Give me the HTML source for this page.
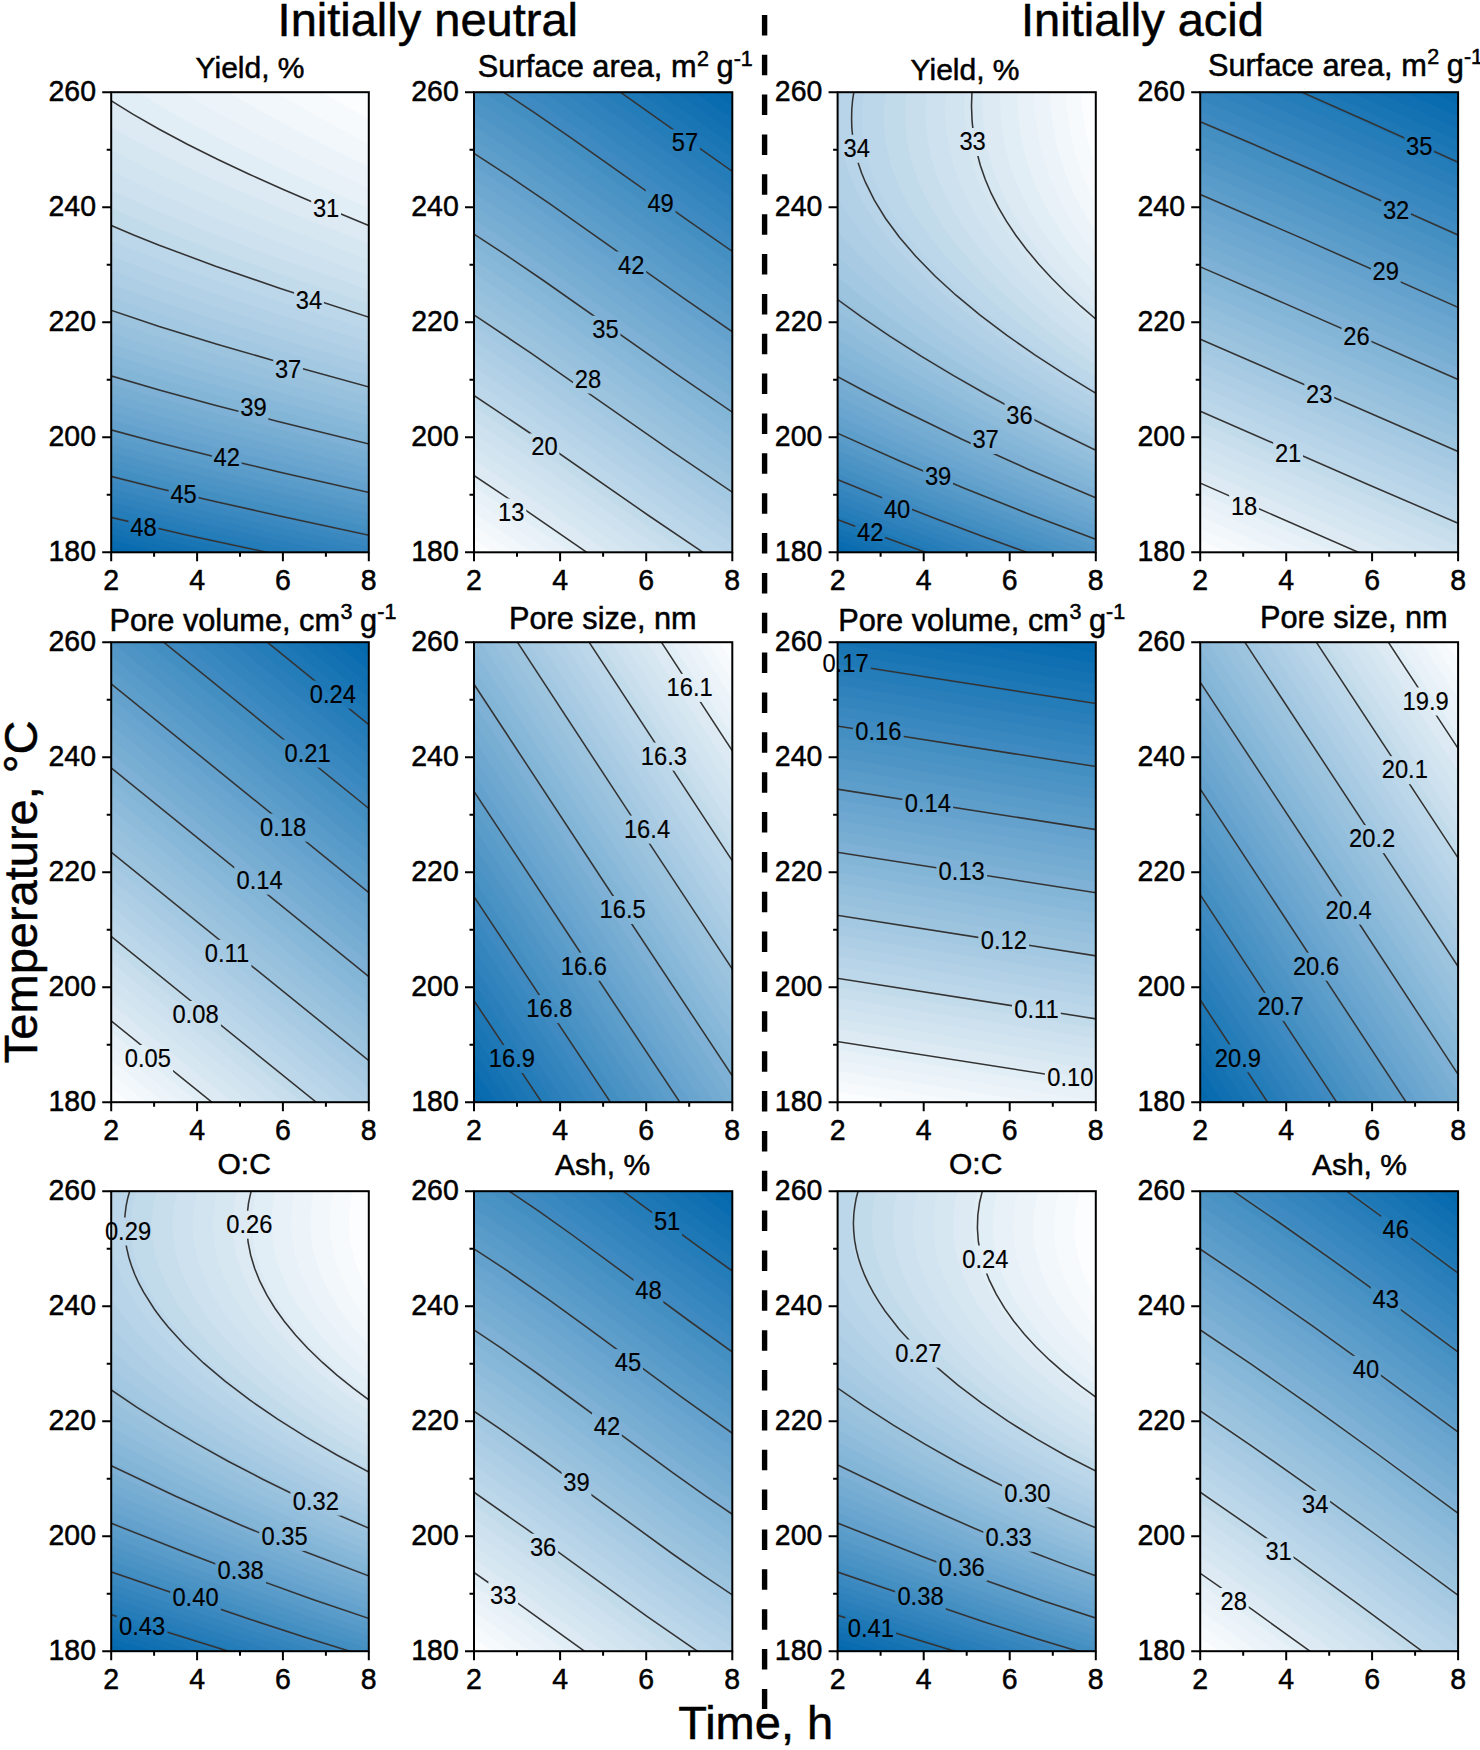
<!DOCTYPE html><html><head><meta charset="utf-8"><style>html,body{margin:0;padding:0;background:#fff}body{width:1480px;height:1750px;overflow:hidden}svg{display:block}text{font-family:"Liberation Sans", Arial, sans-serif;fill:#000;stroke:#000;stroke-width:0.5px}text.l{stroke-width:0.15px}</style></head><body>
<svg width="1480" height="1750" viewBox="0 0 1480 1750">
<rect width="1480" height="1750" fill="#fff"/>
<defs></defs>
<clipPath id="c0"><rect x="111.2" y="92.2" width="257.6" height="460.1"/></clipPath>
<mask id="m0" maskUnits="userSpaceOnUse" x="106.2" y="87.2" width="267.6" height="470.1"><rect x="0" y="0" width="1480" height="1750" fill="#fff"/><rect x="311.2" y="194.5" width="29.8" height="28" fill="#000"/><rect x="294.1" y="286.8" width="29.8" height="28" fill="#000"/><rect x="273.2" y="356" width="29.8" height="28" fill="#000"/><rect x="238.5" y="394" width="29.8" height="28" fill="#000"/><rect x="211.9" y="443.4" width="29.8" height="28" fill="#000"/><rect x="168.7" y="480.9" width="29.8" height="28" fill="#000"/><rect x="128.5" y="513.4" width="29.8" height="28" fill="#000"/></mask>
<g clip-path="url(#c0)"><rect x="111.2" y="92.2" width="257.6" height="460.1" fill="#fcfdfe"/><path fill="#f7fafc" d="M109.2 90.2L318.9 90.2 370.2 120.3 370.2 554.2 109.2 554.2Z"/><path fill="#f2f7fb" d="M109.2 90.2L271.8 90.2 317 116.2 370.2 145 370.2 554.2 109.2 554.2Z"/><path fill="#edf4f9" d="M109.2 90.2L224.8 90.2 255.8 108.2 288.7 126.2 327 146.2 370.2 167.8 370.2 554.2 109.2 554.2Z"/><path fill="#e7f1f7" d="M109.2 90.2L178.9 90.2 218.1 113.2 261 136.2 309.2 160.2 370.2 188.9 370.2 554.2 109.2 554.2Z"/><path fill="#e2eef6" d="M109.2 90.2L134.8 90.2 157.2 104.1 180.2 117.4 232.5 145.2 293 174.2 370.2 208.5 370.2 554.2 109.2 554.2Z"/><path fill="#ddeaf4" d="M109.2 100.7L134.5 116.2 160.2 130.8 187.4 145.2 217.5 160.2 283.1 190.2 370.2 226.9 370.2 554.2 109.2 554.2Z"/><path fill="#d7e7f2" d="M109.2 125.8L134.7 140.2 160.2 153.6 187.6 167.2 217.7 181.2 282.7 209.2 370.2 244.1 370.2 554.2 109.2 554.2Z"/><path fill="#d2e4f0" d="M109.2 148.6L134.2 161.8 159.2 174.2 216.8 200.2 283 227.2 370.2 260.4 370.2 554.2 109.2 554.2Z"/><path fill="#cde1ef" d="M109.2 169.7L160.3 194.2 216.5 218.2 280.8 243.2 370.2 275.7 370.2 554.2 109.2 554.2Z"/><path fill="#c8deed" d="M109.3 189.2L159.9 212.2 216.5 235.2 281.1 259.2 370.2 290.3 370.2 554.2 109.2 554.2Z"/><path fill="#c2dbeb" d="M109.2 207.3L159.9 229.2 216.5 251.2 281.1 274.2 370.2 304.2 370.2 554.2 109.2 554.2Z"/><path fill="#bdd7ea" d="M109.2 224.3L159.9 245.2 216.2 266.2 280.3 288.2 370.2 317.4 370.2 554.2 109.2 554.2Z"/><path fill="#b8d4e8" d="M109.2 240.3L159.5 260.2 215.2 280.2 278.4 301.2 370.2 330.1 370.2 554.2 109.2 554.2Z"/><path fill="#b3d1e6" d="M109.2 255.4L160.2 274.8 216.2 294.2 278.4 314.2 370.2 342.3 370.2 554.2 109.2 554.2Z"/><path fill="#adcee5" d="M109.2 269.7L159.5 288.2 216.1 307.2 280.2 327.2 370.2 354 370.2 554.2 109.2 554.2Z"/><path fill="#a8cbe3" d="M109.2 283.3L159.4 301.2 215.2 319.4 280.4 339.2 370.2 365.2 370.2 554.2 109.2 554.2Z"/><path fill="#a3c8e1" d="M109.2 296.3L160.2 313.9 215.2 331.4 278.8 350.2 370.2 376.1 370.2 554.2 109.2 554.2Z"/><path fill="#9dc4df" d="M109.2 308.7L161.2 326.2 216.3 343.2 278.6 361.2 370.2 386.6 370.2 554.2 109.2 554.2Z"/><path fill="#98c1de" d="M109.2 320.6L159.8 337.2 216.1 354.2 279.8 372.2 370.2 396.7 370.2 554.2 109.2 554.2Z"/><path fill="#93bedc" d="M109.2 332.1L159.6 348.2 216.2 364.9 278.6 382.2 370.2 406.5 370.2 554.2 109.2 554.2Z"/><path fill="#8ebbda" d="M109.5 343.2L160.7 359.2 216.1 375.2 278.7 392.2 370.2 416.1 370.2 554.2 109.2 554.2Z"/><path fill="#88b8d9" d="M109.2 353.7L159.7 369.2 216.1 385.2 279.9 402.2 370.2 425.4 370.2 554.2 109.2 554.2Z"/><path fill="#83b5d7" d="M109.2 364L159.8 379.2 217.2 395.2 370.2 434.4 370.2 554.2 109.2 554.2Z"/><path fill="#7eb1d5" d="M109.2 374L161 389.2 215.9 404.2 370.2 443.1 370.2 554.2 109.2 554.2Z"/><path fill="#79aed3" d="M109.2 383.6L159.7 398.2 215.4 413.2 370.2 451.7 370.2 554.2 109.2 554.2Z"/><path fill="#73abd2" d="M109.2 392.9L159.3 407.2 215.9 422.2 370.2 460 370.2 554.2 109.2 554.2Z"/><path fill="#6ea8d0" d="M109.2 402L159.8 416.2 217.2 431.2 370.2 468.1 370.2 554.2 109.2 554.2Z"/><path fill="#69a5ce" d="M109.2 410.9L161.2 425.2 215.6 439.2 370.2 476.1 370.2 554.2 109.2 554.2Z"/><path fill="#64a2cd" d="M109.2 419.5L159.7 433.2 215.2 447.3 370.2 483.8 370.2 554.2 109.2 554.2Z"/><path fill="#5e9ecb" d="M109.2 427.8L159.2 441.3 215.2 455.3 370.2 491.4 370.2 554.2 109.2 554.2Z"/><path fill="#599bc9" d="M109.2 436L159.2 449.3 215.4 463.2 370.2 498.8 370.2 554.2 109.2 554.2Z"/><path fill="#5498c7" d="M109.2 444L159.7 457.2 216.9 471.2 370.2 506.1 370.2 554.2 109.2 554.2Z"/><path fill="#4e95c6" d="M109.2 451.8L161.2 465.2 215.2 478.3 370.2 513.2 370.2 554.2 109.2 554.2Z"/><path fill="#4992c4" d="M109.2 459.4L161.2 472.7 217.7 486.2 370.2 520.2 370.2 554.2 109.2 554.2Z"/><path fill="#448fc2" d="M109.2 466.8L162.1 480.2 216.9 493.2 370.2 527.1 370.2 554.2 109.2 554.2Z"/><path fill="#3f8bc1" d="M109.4 474.2L161.2 487.1 216.8 500.2 370.2 533.8 370.2 554.2 109.2 554.2Z"/><path fill="#3988bf" d="M109.2 481.3L161.4 494.2 217.3 507.2 370.2 540.4 370.2 554.2 109.2 554.2Z"/><path fill="#3485bd" d="M109.2 488.3L161.9 501.2 218.2 514.2 370.2 546.9 370.2 554.2 109.2 554.2Z"/><path fill="#2f82bc" d="M109.4 495.2L197.6 516.2 265.7 531.2 370.2 553.3 370.2 554.2 109.2 554.2Z"/><path fill="#2a7fba" d="M109.2 501.9L208.6 525.2 344.5 554.2 109.2 554.2Z"/><path fill="#247cb8" d="M109.2 508.5L200.2 529.8 314.5 554.2 109.2 554.2Z"/><path fill="#1f78b6" d="M109.2 515L188.2 533.4 284.9 554.2 109.2 554.2Z"/><path fill="#1a75b5" d="M109.2 521.4L177.1 537.2 255.7 554.2 109.2 554.2Z"/><path fill="#1472b3" d="M109.2 527.6L165.2 540.7 227 554.2 109.2 554.2Z"/><path fill="#0f6fb1" d="M109.2 533.8L153.8 544.2 199 554.2 109.2 554.2Z"/><path fill="#0a6cb0" d="M109.2 539.9L140.6 547.2 171.8 554.2 109.2 554.2Z"/><path fill="#0569ae" d="M109.2 545.9L127.8 550.2 145.4 554.2 109.2 554.2Z"/><path fill="none" stroke="#333333" stroke-width="1.55" mask="url(#m0)" d="M109.2 99.6L133.2 114.4 159.2 129.2 187.3 144.2 217.4 159.2 249.2 174.2 282.7 189.2 322.3 206.2 370.2 226.1M109.2 224.6L134.2 235.2 159.2 245.2 215.6 266.2 279.6 288.2 370.2 317.6M109.2 309.6L159.2 326.4 216.2 344 279.3 362.2 370.2 387.3M109.2 375.3L160.1 390.2 215 405.2 277.1 421.2 370.2 444.3M109.2 429.4L160.7 443.2 216.7 457.2 280 472.2 370.2 492.8M109.2 475.9L160.2 488.7 217.2 502 280.8 516.2 370.2 535.5M109.2 517L185.2 534.7 275.8 554.2"/></g>
<text class="l" transform="translate(326.1 216.5) scale(0.95 1)" text-anchor="middle" font-size="25">31</text>
<text class="l" transform="translate(309 308.8) scale(0.95 1)" text-anchor="middle" font-size="25">34</text>
<text class="l" transform="translate(288.1 378.1) scale(0.95 1)" text-anchor="middle" font-size="25">37</text>
<text class="l" transform="translate(253.4 416.1) scale(0.95 1)" text-anchor="middle" font-size="25">39</text>
<text class="l" transform="translate(226.8 465.5) scale(0.95 1)" text-anchor="middle" font-size="25">42</text>
<text class="l" transform="translate(183.6 502.9) scale(0.95 1)" text-anchor="middle" font-size="25">45</text>
<text class="l" transform="translate(143.4 535.5) scale(0.95 1)" text-anchor="middle" font-size="25">48</text>
<rect x="111.2" y="92.2" width="257.6" height="460.1" fill="none" stroke="#000" stroke-width="2"/>
<path stroke="#000" stroke-width="2" fill="none" d="M111.2 552.3H102.2M111.2 494.8H106.7M111.2 437.3H102.2M111.2 379.8H106.7M111.2 322.2H102.2M111.2 264.7H106.7M111.2 207.2H102.2M111.2 149.7H106.7M111.2 92.2H102.2M111.2 552.3V561.3M154.1 552.3V556.8M197.1 552.3V561.3M240 552.3V556.8M282.9 552.3V561.3M325.9 552.3V556.8M368.8 552.3V561.3"/>
<text transform="translate(96 561.1) scale(0.95 1)" text-anchor="end" font-size="30">180</text>
<text transform="translate(96 446.1) scale(0.95 1)" text-anchor="end" font-size="30">200</text>
<text transform="translate(96 331.1) scale(0.95 1)" text-anchor="end" font-size="30">220</text>
<text transform="translate(96 216) scale(0.95 1)" text-anchor="end" font-size="30">240</text>
<text transform="translate(96 101) scale(0.95 1)" text-anchor="end" font-size="30">260</text>
<text transform="translate(111.2 590.3) scale(0.95 1)" text-anchor="middle" font-size="30">2</text>
<text transform="translate(197.1 590.3) scale(0.95 1)" text-anchor="middle" font-size="30">4</text>
<text transform="translate(282.9 590.3) scale(0.95 1)" text-anchor="middle" font-size="30">6</text>
<text transform="translate(368.8 590.3) scale(0.95 1)" text-anchor="middle" font-size="30">8</text>
<clipPath id="c1"><rect x="474" y="92.2" width="258.3" height="460.1"/></clipPath>
<mask id="m1" maskUnits="userSpaceOnUse" x="469" y="87.2" width="268.3" height="470.1"><rect x="0" y="0" width="1480" height="1750" fill="#fff"/><rect x="496.4" y="498.5" width="29.8" height="28" fill="#000"/><rect x="529.5" y="433.4" width="29.8" height="28" fill="#000"/><rect x="573" y="365.5" width="29.8" height="28" fill="#000"/><rect x="590.6" y="315.8" width="29.8" height="28" fill="#000"/><rect x="616.4" y="251.5" width="29.8" height="28" fill="#000"/><rect x="645.7" y="189.6" width="29.8" height="28" fill="#000"/><rect x="670.1" y="129.4" width="29.8" height="28" fill="#000"/></mask>
<g clip-path="url(#c1)"><rect x="474" y="92.2" width="258.3" height="460.1" fill="#fcfdfe"/><path fill="#f7fafc" d="M472 90.2L734 90.2 734 554.2 496.7 554.2 472 537.8Z"/><path fill="#f2f7fb" d="M472 90.2L734 90.2 734 554.2 516.1 554.2 472 524.7Z"/><path fill="#edf4f9" d="M472 90.2L734 90.2 734 554.2 535.3 554.2 472 511.6Z"/><path fill="#e7f1f7" d="M472 90.2L734 90.2 734 554.2 554.4 554.2 472 498.5Z"/><path fill="#e2eef6" d="M472 90.2L734 90.2 734 554.2 573.4 554.2 516 514.7 472 485.3Z"/><path fill="#ddeaf4" d="M472 90.2L734 90.2 734 554.2 592.5 554.2 521 504.9 472 472.1Z"/><path fill="#d7e7f2" d="M472 90.2L734 90.2 734 554.2 611.5 554.2 526 495.1 472 458.9Z"/><path fill="#d2e4f0" d="M472 90.2L734 90.2 734 554.2 630.6 554.2 529 483.9 472 445.6Z"/><path fill="#cde1ef" d="M472 90.2L734 90.2 734 554.2 649.7 554.2 530 471.3 472 432.4Z"/><path fill="#c8deed" d="M472 90.2L734 90.2 734 554.2 669.1 554.2 530 458 472 419.1Z"/><path fill="#c2dbeb" d="M472 90.2L734 90.2 734 554.2 688.6 554.2 641.6 522.2 529 444 472 405.8Z"/><path fill="#bdd7ea" d="M472 90.2L734 90.2 734 554.2 708.3 554.2 652 516.1 527 429.3 472 392.4Z"/><path fill="#b8d4e8" d="M472 90.2L734 90.2 734 554.2 728.4 554.2 699 534.8 648.2 500.2 530 418 472 379.1Z"/><path fill="#b3d1e6" d="M472 90.2L734 90.2 734 544.7 674.7 505.2 535 408 472 365.7Z"/><path fill="#adcee5" d="M472 90.2L734 90.2 734 531.5 676.6 493.2 536 395.3 472 352.4Z"/><path fill="#a8cbe3" d="M472 90.2L734 90.2 734 518.3 668.3 474.2 527 375.8 472 339Z"/><path fill="#a3c8e1" d="M472 90.2L734 90.2 734 505.1 670 462.1 529 363.7 472 325.6Z"/><path fill="#9dc4df" d="M472 90.2L734 90.2 734 491.9 670.7 449.2 531 351.6 472 312.2Z"/><path fill="#98c1de" d="M472 90.2L734 90.2 734 478.7 672 436.7 533 339.6 472 298.8Z"/><path fill="#93bedc" d="M472 90.2L734 90.2 734 465.4 673 424.1 535 327.5 472 285.4Z"/><path fill="#8ebbda" d="M472 90.2L734 90.2 734 452.1 674 411.4 537 315.4 472 272Z"/><path fill="#88b8d9" d="M472 90.2L734 90.2 734 438.9 675 398.7 538 302.6 472 258.5Z"/><path fill="#83b5d7" d="M472 90.2L734 90.2 734 425.6 676 386 540 290.5 472 245.1Z"/><path fill="#7eb1d5" d="M472 90.2L734 90.2 734 412.2 677 373.3 542 278.5 472 231.7Z"/><path fill="#79aed3" d="M472 90.2L734 90.2 734 398.9 679 361.3 543 265.7 506 240.6 472 218.3Z"/><path fill="#73abd2" d="M472 90.2L734 90.2 734 385.6 680 348.5 545 253.6 507 227.8 472 204.9Z"/><path fill="#6ea8d0" d="M472 90.2L734 90.2 734 372.3 681 335.8 546 240.8 507 214.4 472 191.5Z"/><path fill="#69a5ce" d="M472 90.2L734 90.2 734 358.9 682.1 323.2 548 228.7 508 201.6 472 178.1Z"/><path fill="#64a2cd" d="M472 90.2L734 90.2 734 345.6 684 311.1 549 216 508 188.2 472 164.8Z"/><path fill="#5e9ecb" d="M472 90.2L734 90.2 734 332.2 685 298.4 551 203.9 509 175.4 472 151.4Z"/><path fill="#599bc9" d="M472 90.2L734 90.2 734 318.9 686.8 286.2 552 191.2 510 162.7 472 138.1Z"/><path fill="#5498c7" d="M472 90.2L734 90.2 734 305.5 688 273.7 553 178.4 510 149.3 472 124.7Z"/><path fill="#4e95c6" d="M472 90.2L734 90.2 734 292.2 554 165.7 511 136.6 472 111.4Z"/><path fill="#4992c4" d="M472 90.2L734 90.2 734 278.8 556 153.7 512 123.9 472 98.1Z"/><path fill="#448fc2" d="M480.5 90.2L734 90.2 734 265.5 564 145.9 520 115.9Z"/><path fill="#3f8bc1" d="M501.2 90.2L734 90.2 734 252.2 577 141.5 537 114Z"/><path fill="#3988bf" d="M521.4 90.2L734 90.2 734 238.9 581.3 131.2Z"/><path fill="#3485bd" d="M541.2 90.2L734 90.2 734 225.6 591 124.6Z"/><path fill="#2f82bc" d="M560.6 90.2L734 90.2 734 212.3Z"/><path fill="#2a7fba" d="M580 90.2L734 90.2 734 199 693 170.3Z"/><path fill="#247cb8" d="M599 90.2L734 90.2 734 185.8 690 154.9Z"/><path fill="#1f78b6" d="M617.6 90.2L734 90.2 734 172.5Z"/><path fill="#1a75b5" d="M636.3 90.2L734 90.2 734 159.3Z"/><path fill="#1472b3" d="M655 90.2L734 90.2 734 146.1 695 118.7Z"/><path fill="#0f6fb1" d="M673.4 90.2L734 90.2 734 133Z"/><path fill="#0a6cb0" d="M692 90.2L734 90.2 734 119.8 710 103Z"/><path fill="#0569ae" d="M710.5 90.2L734 90.2 734 106.7Z"/><path fill="none" stroke="#333333" stroke-width="1.55" mask="url(#m1)" d="M589.5 554.2L521 507 472 474.1M705.8 554.2L650 516.5 527 431 472 394.2M734 493.3L670.1 450.2 531 353.1 472 313.6M734 413.3L677 374.4 542 279.5 505 254.4 472 232.8M734 333L685 299.1 550.3 204.2 509 176.2 472 152.1M734 252.6L691 222.7 571 137.8 534 112.4 500.6 90.2M734 172.6L617.5 90.2"/></g>
<text class="l" transform="translate(511.3 520.6) scale(0.95 1)" text-anchor="middle" font-size="25">13</text>
<text class="l" transform="translate(544.4 455.4) scale(0.95 1)" text-anchor="middle" font-size="25">20</text>
<text class="l" transform="translate(587.9 387.6) scale(0.95 1)" text-anchor="middle" font-size="25">28</text>
<text class="l" transform="translate(605.5 337.9) scale(0.95 1)" text-anchor="middle" font-size="25">35</text>
<text class="l" transform="translate(631.3 273.6) scale(0.95 1)" text-anchor="middle" font-size="25">42</text>
<text class="l" transform="translate(660.6 211.7) scale(0.95 1)" text-anchor="middle" font-size="25">49</text>
<text class="l" transform="translate(685 151.4) scale(0.95 1)" text-anchor="middle" font-size="25">57</text>
<rect x="474" y="92.2" width="258.3" height="460.1" fill="none" stroke="#000" stroke-width="2"/>
<path stroke="#000" stroke-width="2" fill="none" d="M474 552.3H465M474 494.8H469.5M474 437.3H465M474 379.8H469.5M474 322.2H465M474 264.7H469.5M474 207.2H465M474 149.7H469.5M474 92.2H465M474 552.3V561.3M517 552.3V556.8M560.1 552.3V561.3M603.1 552.3V556.8M646.2 552.3V561.3M689.2 552.3V556.8M732.3 552.3V561.3"/>
<text transform="translate(458.8 561.1) scale(0.95 1)" text-anchor="end" font-size="30">180</text>
<text transform="translate(458.8 446.1) scale(0.95 1)" text-anchor="end" font-size="30">200</text>
<text transform="translate(458.8 331.1) scale(0.95 1)" text-anchor="end" font-size="30">220</text>
<text transform="translate(458.8 216) scale(0.95 1)" text-anchor="end" font-size="30">240</text>
<text transform="translate(458.8 101) scale(0.95 1)" text-anchor="end" font-size="30">260</text>
<text transform="translate(474 590.3) scale(0.95 1)" text-anchor="middle" font-size="30">2</text>
<text transform="translate(560.1 590.3) scale(0.95 1)" text-anchor="middle" font-size="30">4</text>
<text transform="translate(646.2 590.3) scale(0.95 1)" text-anchor="middle" font-size="30">6</text>
<text transform="translate(732.3 590.3) scale(0.95 1)" text-anchor="middle" font-size="30">8</text>
<clipPath id="c2"><rect x="837.6" y="92.2" width="258.2" height="460.1"/></clipPath>
<mask id="m2" maskUnits="userSpaceOnUse" x="832.6" y="87.2" width="268.2" height="470.1"><rect x="0" y="0" width="1480" height="1750" fill="#fff"/><rect x="957.7" y="128" width="29.8" height="28" fill="#000"/><rect x="841.8" y="134.8" width="29.8" height="28" fill="#000"/><rect x="1004.6" y="401.6" width="29.8" height="28" fill="#000"/><rect x="970.7" y="426" width="29.8" height="28" fill="#000"/><rect x="923.2" y="463.2" width="29.8" height="28" fill="#000"/><rect x="882.2" y="495.8" width="29.8" height="28" fill="#000"/><rect x="855.3" y="518.9" width="29.8" height="28" fill="#000"/></mask>
<g clip-path="url(#c2)"><rect x="837.6" y="92.2" width="258.2" height="460.1" fill="#fcfdfe"/><path fill="#f7fafc" d="M835.6 90.2L1080.7 90.2 1082.5 111.2 1086 132.2 1090.9 152.2 1097.6 172.1 1097.6 554.2 835.6 554.2Z"/><path fill="#f2f7fb" d="M835.6 90.2L1065.5 90.2 1066.5 106.2 1068.3 121.2 1071 136.2 1074.4 150.2 1079 165.2 1084.2 179.2 1090.4 193.2 1097.6 207.3 1097.6 554.2 835.6 554.2Z"/><path fill="#edf4f9" d="M835.6 90.2L1049.9 90.2 1050.9 109.2 1053.3 128.2 1056.9 146.2 1062.1 164.2 1068.8 182.2 1076.6 199.2 1086.5 217.2 1097.6 234.5 1097.6 554.2 835.6 554.2Z"/><path fill="#e7f1f7" d="M835.6 90.2L1033.9 90.2 1034.8 112.2 1037.7 134.2 1042.4 155.2 1049.4 176.2 1058.5 197.2 1069.4 217.2 1082.4 237.2 1097.6 257.2 1097.6 554.2 835.6 554.2Z"/><path fill="#e2eef6" d="M835.6 90.2L1017.4 90.2 1018.2 115.2 1021.4 139.2 1027.4 163.2 1035.9 186.2 1047.2 209.2 1061.4 232.2 1078.5 255.2 1097.6 277.2 1097.6 554.2 835.6 554.2Z"/><path fill="#ddeaf4" d="M835.6 90.2L1000.5 90.2 1000.3 104.2 1000.9 117.2 1002.5 131.2 1004.7 144.2 1007.8 157.2 1011.8 170.2 1016.7 183.2 1022 195.2 1028.1 207.2 1035.6 220.2 1044.1 233.2 1052.8 245.2 1073.5 270.2 1097.6 295.1 1097.6 554.2 835.6 554.2Z"/><path fill="#d7e7f2" d="M835.6 90.2L982.9 90.2 982.6 105.2 983.1 119.2 984.6 133.2 987.1 147.2 990.6 161.2 995.1 175.2 1000.8 189.2 1007 202.2 1014.8 216.2 1023.7 230.2 1033 243.2 1044 257.2 1055.4 270.2 1068.6 284.2 1083 298.2 1097.6 311.4 1097.6 554.2 835.6 554.2Z"/><path fill="#d2e4f0" d="M835.6 90.2L964.9 90.2 964.2 106.2 964.7 121.2 966.3 136.2 969.1 151.2 973.1 166.2 978 180.2 984.1 194.2 991.8 209.2 1000.2 223.2 1010.5 238.2 1021.3 252.2 1034.1 267.2 1048.3 282.2 1063.7 297.2 1080.5 312.2 1097.6 326.4 1097.6 554.2 835.6 554.2Z"/><path fill="#cde1ef" d="M835.6 90.2L946.2 90.2 945.2 107.2 945.6 123.2 947.4 139.2 950.4 154.2 954.9 170.2 960.6 185.2 968.1 201.2 976.5 216.2 986.3 231.2 998.2 247.2 1010.7 262.2 1025.6 278.2 1040.9 293.2 1058.6 309.2 1077.8 325.2 1097.6 340.5 1097.6 554.2 835.6 554.2Z"/><path fill="#c8deed" d="M835.6 90.2L926.8 90.2 925.6 107.2 925.8 124.2 927.7 141.2 931 157.2 935.9 173.2 942.3 189.2 950.2 205.2 959.8 221.2 970.9 237.2 984.4 254.2 998.7 270.2 1015.5 287.2 1032.9 303.2 1053.1 320.2 1074.9 337.2 1097.6 353.7 1097.6 554.2 835.6 554.2Z"/><path fill="#c2dbeb" d="M835.6 90.2L906.7 90.2 905.2 108.2 905.3 125.2 907.2 142.2 910.8 159.2 916.3 176.2 923.5 193.2 932.6 210.2 943.5 227.2 956.2 244.2 970.6 261.2 986.8 278.2 1005.9 296.2 1025.6 313.2 1048.2 331.2 1071.3 348.2 1097.6 366.2 1097.6 554.2 835.6 554.2Z"/><path fill="#bdd7ea" d="M835.6 90.2L885.9 90.2 884 108.2 884.1 126.2 886.1 144.2 890 161.2 896.1 179.2 903.8 196.2 913.4 213.2 925.6 231.2 939.8 249.2 956 267.2 974.2 285.2 995.4 304.2 1017.5 322.2 1042.8 341.2 1068.6 359.2 1097.6 378.1 1097.6 554.2 835.6 554.2Z"/><path fill="#b8d4e8" d="M835.6 90.2L864.2 90.2 861.9 110.2 862.2 130.2 865.2 150.2 870.8 170.2 879.1 190.2 890.1 210.2 903.7 230.2 919.8 250.2 935.5 267.2 952.9 284.2 972.1 301.2 994.1 319.2 1016.7 336.2 1042.3 354.2 1069.7 372.2 1097.6 389.4 1097.6 554.2 835.6 554.2Z"/><path fill="#b3d1e6" d="M835.6 90.2L841.5 90.2 839.1 110.2 839.3 130.2 842.2 150.2 848 170.2 855.6 188.2 865.4 206.2 877.5 224.2 891.6 242.2 908.7 261.2 929.1 281.2 950.6 300.2 975.6 320.2 1002.8 340.2 1032.2 360.2 1063.8 380.2 1097.6 400.2 1097.6 554.2 835.6 554.2Z"/><path fill="#adcee5" d="M835.6 194.2L843.9 208.2 852.8 221.2 862.9 234.2 874 247.2 886.2 260.2 899.4 273.2 930.1 300.2 964.9 327.2 1005.2 355.2 1049.8 383.2 1097.6 410.6 1097.6 554.2 835.6 554.2Z"/><path fill="#a8cbe3" d="M835.6 228.6L856.4 252.2 880 275.2 907.9 299.2 939.1 323.2 973.4 347.2 1012.5 372.2 1053.1 396.2 1097.6 420.6 1097.6 554.2 835.6 554.2Z"/><path fill="#a3c8e1" d="M835.8 254.2L858.1 275.2 884.2 297.2 913 319.2 944.4 341.2 980 364.2 1016.6 386.2 1055.8 408.2 1097.6 430.2 1097.6 554.2 835.6 554.2Z"/><path fill="#9dc4df" d="M835.8 275.2L860.1 295.2 887.9 316.2 916.5 336.2 948.8 357.2 983.4 378.2 1018.5 398.2 1057.5 419.2 1097.6 439.5 1097.6 554.2 835.6 554.2Z"/><path fill="#98c1de" d="M835.6 293.2L862.4 313.2 889.8 332.2 919 351.2 951.7 371.2 986.5 391.2 1021.4 410.2 1058.2 429.2 1097.6 448.5 1097.6 554.2 835.6 554.2Z"/><path fill="#93bedc" d="M835.6 309.5L862.7 328.2 892.1 347.2 923.2 366.2 954.3 384.2 988.9 403.2 1023.4 421.2 1059.5 439.2 1097.6 457.3 1097.6 554.2 835.6 554.2Z"/><path fill="#8ebbda" d="M835.6 324.4L863.3 342.2 892.8 360.2 923.8 378.2 956.4 396.2 990.5 414.2 1024.2 431.2 1097.6 465.8 1097.6 554.2 835.6 554.2Z"/><path fill="#88b8d9" d="M835.8 338.2L865.4 356.2 894.8 373.2 957.5 407.2 1025.9 441.2 1097.6 474.1 1097.6 554.2 835.6 554.2Z"/><path fill="#83b5d7" d="M835.6 350.9L896.3 385.2 959.6 418.2 1026.1 450.2 1097.6 482.1 1097.6 554.2 835.6 554.2Z"/><path fill="#7eb1d5" d="M835.6 362.9L897 396.2 960.6 428.2 1026.9 459.2 1097.6 489.9 1097.6 554.2 835.6 554.2Z"/><path fill="#79aed3" d="M835.6 374.3L898.6 407.2 962.3 438.2 1028.3 468.2 1097.6 497.6 1097.6 554.2 835.6 554.2Z"/><path fill="#73abd2" d="M835.9 385.2L897.2 416.2 962.6 447.2 1028 476.2 1097.6 505.1 1097.6 554.2 835.6 554.2Z"/><path fill="#6ea8d0" d="M835.6 395.4L898.5 426.2 963.6 456.2 1030.6 485.2 1097.6 512.4 1097.6 554.2 835.6 554.2Z"/><path fill="#69a5ce" d="M835.6 405.2L900.6 436.2 965.2 465.2 1031.4 493.2 1097.6 519.5 1097.6 554.2 835.6 554.2Z"/><path fill="#64a2cd" d="M835.6 414.7L901.2 445.2 965 473.2 1030.2 500.2 1097.6 526.5 1097.6 554.2 835.6 554.2Z"/><path fill="#5e9ecb" d="M835.6 423.8L900.3 453.2 965.4 481.2 1031.9 508.2 1097.6 533.4 1097.6 554.2 835.6 554.2Z"/><path fill="#599bc9" d="M835.6 432.6L902.2 462.2 966.3 489.2 1031.5 515.2 1097.6 540.1 1097.6 554.2 835.6 554.2Z"/><path fill="#5498c7" d="M835.7 441.2L900 469.2 965.2 496.2 1031.5 522.2 1097.6 546.7 1097.6 554.2 835.6 554.2Z"/><path fill="#4e95c6" d="M835.6 449.4L895.8 475.2 954.5 499.2 1026.6 527.2 1097.6 553.2 1097.6 554.2 835.6 554.2Z"/><path fill="#4992c4" d="M835.6 457.4L896.9 483.2 959.1 508.2 1019.2 531.2 1082.5 554.2 835.6 554.2Z"/><path fill="#448fc2" d="M835.6 465.2L893.5 489.2 951.4 512.2 1006.7 533.2 1064.5 554.2 835.6 554.2Z"/><path fill="#3f8bc1" d="M835.6 472.8L888 494.2 941.3 515.2 994.2 535.2 1046.6 554.2 835.6 554.2Z"/><path fill="#3988bf" d="M835.7 480.2L931.4 518.2 1028.9 554.2 835.6 554.2Z"/><path fill="#3485bd" d="M835.6 487.4L924.3 522.2 1011.2 554.2 835.6 554.2Z"/><path fill="#2f82bc" d="M835.6 494.4L914.8 525.2 993.7 554.2 835.6 554.2Z"/><path fill="#2a7fba" d="M835.6 501.3L905.4 528.2 976.3 554.2 835.6 554.2Z"/><path fill="#247cb8" d="M835.6 508L899 532.2 959.1 554.2 835.6 554.2Z"/><path fill="#1f78b6" d="M835.6 514.6L890 535.2 942 554.2 835.6 554.2Z"/><path fill="#1a75b5" d="M835.6 521L881.2 538.2 925.1 554.2 835.6 554.2Z"/><path fill="#1472b3" d="M835.6 527.3L872.7 541.2 908.3 554.2 835.6 554.2Z"/><path fill="#0f6fb1" d="M835.6 533.5L864.3 544.2 891.7 554.2 835.6 554.2Z"/><path fill="#0a6cb0" d="M835.6 539.6L856.1 547.2 875.3 554.2 835.6 554.2Z"/><path fill="#0569ae" d="M835.6 545.6L848.1 550.2 859.1 554.2 835.6 554.2Z"/><path fill="none" stroke="#333333" stroke-width="1.55" mask="url(#m2)" d="M972 90.2L971.5 106.2 972.1 121.2 973.7 136.2 976.4 150.2 980.3 165.2 985.2 179.2 991.1 193.2 998.2 207.2 1006.4 221.2 1015.8 235.2 1026.3 249.2 1038.8 264.2 1051.7 278.2 1065.7 292.2 1080.8 306.2 1097.6 320.6M854.1 90.2L852.6 100.2 851.8 109.2 851.6 118.2 851.8 127.2 852.7 137.2 854.2 146.2 856.1 155.2 858.6 164.2 861.7 173.2 865.4 182.2 874.3 200.2 885.4 218.2 899.4 237.2 915.7 256.2 935.2 276.2 956 295.2 980.1 315.2 1006.6 335.2 1035.2 355.2 1066.1 375.2 1097.6 394.3M835.6 298.1L861.8 317.2 889.7 336.2 921.1 356.2 952.7 375.2 986.2 394.2 1021.5 413.2 1058.7 432.2 1097.6 451.1M835.6 375.7L866.7 392.2 898 408.2 961.9 439.2 1028.1 469.2 1097.6 498.6M835.6 432.4L900.3 461.2 964.3 488.2 1029.4 514.2 1097.6 539.9M835.6 478.8L885.9 499.2 934.6 518.2 982.4 536.2 1032.1 554.2M835.6 518.8L884.2 537.2 930.8 554.2"/></g>
<text class="l" transform="translate(972.6 150) scale(0.95 1)" text-anchor="middle" font-size="25">33</text>
<text class="l" transform="translate(856.7 156.8) scale(0.95 1)" text-anchor="middle" font-size="25">34</text>
<text class="l" transform="translate(1019.5 423.7) scale(0.95 1)" text-anchor="middle" font-size="25">36</text>
<text class="l" transform="translate(985.6 448.1) scale(0.95 1)" text-anchor="middle" font-size="25">37</text>
<text class="l" transform="translate(938.1 485.3) scale(0.95 1)" text-anchor="middle" font-size="25">39</text>
<text class="l" transform="translate(897.1 517.8) scale(0.95 1)" text-anchor="middle" font-size="25">40</text>
<text class="l" transform="translate(870.2 540.9) scale(0.95 1)" text-anchor="middle" font-size="25">42</text>
<rect x="837.6" y="92.2" width="258.2" height="460.1" fill="none" stroke="#000" stroke-width="2"/>
<path stroke="#000" stroke-width="2" fill="none" d="M837.6 552.3H828.6M837.6 494.8H833.1M837.6 437.3H828.6M837.6 379.8H833.1M837.6 322.2H828.6M837.6 264.7H833.1M837.6 207.2H828.6M837.6 149.7H833.1M837.6 92.2H828.6M837.6 552.3V561.3M880.6 552.3V556.8M923.7 552.3V561.3M966.7 552.3V556.8M1009.7 552.3V561.3M1052.8 552.3V556.8M1095.8 552.3V561.3"/>
<text transform="translate(822.4 561.1) scale(0.95 1)" text-anchor="end" font-size="30">180</text>
<text transform="translate(822.4 446.1) scale(0.95 1)" text-anchor="end" font-size="30">200</text>
<text transform="translate(822.4 331.1) scale(0.95 1)" text-anchor="end" font-size="30">220</text>
<text transform="translate(822.4 216) scale(0.95 1)" text-anchor="end" font-size="30">240</text>
<text transform="translate(822.4 101) scale(0.95 1)" text-anchor="end" font-size="30">260</text>
<text transform="translate(837.6 590.3) scale(0.95 1)" text-anchor="middle" font-size="30">2</text>
<text transform="translate(923.7 590.3) scale(0.95 1)" text-anchor="middle" font-size="30">4</text>
<text transform="translate(1009.7 590.3) scale(0.95 1)" text-anchor="middle" font-size="30">6</text>
<text transform="translate(1095.8 590.3) scale(0.95 1)" text-anchor="middle" font-size="30">8</text>
<clipPath id="c3"><rect x="1200.2" y="92.2" width="257.9" height="460.1"/></clipPath>
<mask id="m3" maskUnits="userSpaceOnUse" x="1195.2" y="87.2" width="267.9" height="470.1"><rect x="0" y="0" width="1480" height="1750" fill="#fff"/><rect x="1229.2" y="493.1" width="29.8" height="28" fill="#000"/><rect x="1273.2" y="440.1" width="29.8" height="28" fill="#000"/><rect x="1304.4" y="380.4" width="29.8" height="28" fill="#000"/><rect x="1341.6" y="322.9" width="29.8" height="28" fill="#000"/><rect x="1370.9" y="257.7" width="29.8" height="28" fill="#000"/><rect x="1381.2" y="197.2" width="29.8" height="28" fill="#000"/><rect x="1404.3" y="132.9" width="29.8" height="28" fill="#000"/></mask>
<g clip-path="url(#c3)"><rect x="1200.2" y="92.2" width="257.9" height="460.1" fill="#fcfdfe"/><path fill="#f7fafc" d="M1198.2 90.2L1459.2 90.2 1459.2 554.2 1231.5 554.2 1198.2 539.5Z"/><path fill="#f2f7fb" d="M1198.2 90.2L1459.2 90.2 1459.2 554.2 1258.4 554.2 1198.2 527.7Z"/><path fill="#edf4f9" d="M1198.2 90.2L1459.2 90.2 1459.2 554.2 1285.5 554.2 1198.2 515.8Z"/><path fill="#e7f1f7" d="M1198.2 90.2L1459.2 90.2 1459.2 554.2 1312.6 554.2 1198.2 504Z"/><path fill="#e2eef6" d="M1198.2 90.2L1459.2 90.2 1459.2 554.2 1339.9 554.2 1198.2 492.1Z"/><path fill="#ddeaf4" d="M1198.2 90.2L1459.2 90.2 1459.2 554.2 1367.3 554.2 1198.2 480.3Z"/><path fill="#d7e7f2" d="M1198.2 90.2L1459.2 90.2 1459.2 554.2 1394.8 554.2 1198.2 468.4Z"/><path fill="#d2e4f0" d="M1198.2 90.2L1459.2 90.2 1459.2 554.2 1422.5 554.2 1198.2 456.6Z"/><path fill="#cde1ef" d="M1198.2 90.2L1459.2 90.2 1459.2 554.2 1450.4 554.2 1355.2 513.4 1198.2 444.7Z"/><path fill="#c8deed" d="M1198.2 90.2L1459.2 90.2 1459.2 546.1 1363.2 505 1198.2 432.9Z"/><path fill="#c2dbeb" d="M1198.2 90.2L1459.2 90.2 1459.2 534.3 1366.2 494.4 1198.2 421Z"/><path fill="#bdd7ea" d="M1198.2 90.2L1459.2 90.2 1459.2 522.5 1369.2 483.8 1198.2 409.1Z"/><path fill="#b8d4e8" d="M1198.2 90.2L1459.2 90.2 1459.2 510.7 1198.2 397.2Z"/><path fill="#b3d1e6" d="M1198.2 90.2L1459.2 90.2 1459.2 498.9 1198.2 385.4Z"/><path fill="#adcee5" d="M1198.2 90.2L1459.2 90.2 1459.2 487 1198.2 373.5Z"/><path fill="#a8cbe3" d="M1198.2 90.2L1459.2 90.2 1459.2 475.2 1198.2 361.6Z"/><path fill="#a3c8e1" d="M1198.2 90.2L1459.2 90.2 1459.2 463.3 1198.2 349.7Z"/><path fill="#9dc4df" d="M1198.2 90.2L1459.2 90.2 1459.2 451.5 1198.2 337.8Z"/><path fill="#98c1de" d="M1198.2 90.2L1459.2 90.2 1459.2 439.7 1198.2 325.9Z"/><path fill="#93bedc" d="M1198.2 90.2L1459.2 90.2 1459.2 427.8 1198.2 314Z"/><path fill="#8ebbda" d="M1198.2 90.2L1459.2 90.2 1459.2 415.9 1198.2 302.1Z"/><path fill="#88b8d9" d="M1198.2 90.2L1459.2 90.2 1459.2 404.1 1198.2 290.2Z"/><path fill="#83b5d7" d="M1198.2 90.2L1459.2 90.2 1459.2 392.2 1198.2 278.2Z"/><path fill="#7eb1d5" d="M1198.2 90.2L1459.2 90.2 1459.2 380.3 1286.2 304.4 1198.2 266.3Z"/><path fill="#79aed3" d="M1198.2 90.2L1459.2 90.2 1459.2 368.4 1290.2 294.1 1198.2 254.4Z"/><path fill="#73abd2" d="M1198.2 90.2L1459.2 90.2 1459.2 356.5 1293.2 283.5 1198.2 242.4Z"/><path fill="#6ea8d0" d="M1198.2 90.2L1459.2 90.2 1459.2 344.6 1296.2 272.8 1198.2 230.5Z"/><path fill="#69a5ce" d="M1198.2 90.2L1459.2 90.2 1459.2 332.7 1298.2 261.7 1198.2 218.5Z"/><path fill="#64a2cd" d="M1198.2 90.2L1459.2 90.2 1459.2 320.8 1300.2 250.6 1198.2 206.6Z"/><path fill="#5e9ecb" d="M1198.2 90.2L1459.2 90.2 1459.2 308.9 1302.2 239.4 1198.2 194.6Z"/><path fill="#599bc9" d="M1198.2 90.2L1459.2 90.2 1459.2 297 1303.2 227.9 1198.2 182.6Z"/><path fill="#5498c7" d="M1198.2 90.2L1459.2 90.2 1459.2 285.1 1305.2 216.7 1198.2 170.6Z"/><path fill="#4e95c6" d="M1198.2 90.2L1459.2 90.2 1459.2 273.1 1306.2 205.2 1198.2 158.7Z"/><path fill="#4992c4" d="M1198.2 90.2L1459.2 90.2 1459.2 261.2 1307.2 193.6 1198.2 146.7Z"/><path fill="#448fc2" d="M1198.2 90.2L1459.2 90.2 1459.2 249.2 1309.2 182.4 1198.2 134.7Z"/><path fill="#3f8bc1" d="M1198.2 90.2L1459.2 90.2 1459.2 237.3 1310.2 170.8 1198.2 122.7Z"/><path fill="#3988bf" d="M1198.2 90.2L1459.2 90.2 1459.2 225.3 1310.2 158.8 1198.2 110.7Z"/><path fill="#3485bd" d="M1198.2 90.2L1459.2 90.2 1459.2 213.3 1311.2 147.1 1198.2 98.6Z"/><path fill="#2f82bc" d="M1206.8 90.2L1459.2 90.2 1459.2 201.3 1322.2 139.9Z"/><path fill="#2a7fba" d="M1235.4 90.2L1459.2 90.2 1459.2 189.3 1334.2 133.2Z"/><path fill="#247cb8" d="M1263.6 90.2L1459.2 90.2 1459.2 177.4 1351.2 128.6Z"/><path fill="#1f78b6" d="M1291.5 90.2L1459.2 90.2 1459.2 165.3 1367.2 123.7Z"/><path fill="#1a75b5" d="M1319.2 90.2L1459.2 90.2 1459.2 153.3 1387.2 120.6Z"/><path fill="#1472b3" d="M1346.4 90.2L1459.2 90.2 1459.2 141.3Z"/><path fill="#0f6fb1" d="M1373.4 90.2L1459.2 90.2 1459.2 129.3Z"/><path fill="#0a6cb0" d="M1400.1 90.2L1459.2 90.2 1459.2 117.2Z"/><path fill="#0569ae" d="M1426.6 90.2L1459.2 90.2 1459.2 105.2Z"/><path fill="none" stroke="#333333" stroke-width="1.55" mask="url(#m3)" d="M1362.8 554.2L1198.2 482.2M1459.2 523.7L1369.2 485 1198.2 410.3M1459.2 452L1198.2 338.3M1459.2 380L1286.2 304.1 1198.2 266M1459.2 307.9L1302.2 238.4 1198.2 193.6M1459.2 235.5L1310.2 169 1252.2 143.8 1198.2 120.9M1459.2 162.8L1370.2 122.5 1297.3 90.2"/></g>
<text class="l" transform="translate(1244.1 515.1) scale(0.95 1)" text-anchor="middle" font-size="25">18</text>
<text class="l" transform="translate(1288.1 462.2) scale(0.95 1)" text-anchor="middle" font-size="25">21</text>
<text class="l" transform="translate(1319.3 402.5) scale(0.95 1)" text-anchor="middle" font-size="25">23</text>
<text class="l" transform="translate(1356.5 344.9) scale(0.95 1)" text-anchor="middle" font-size="25">26</text>
<text class="l" transform="translate(1385.8 279.8) scale(0.95 1)" text-anchor="middle" font-size="25">29</text>
<text class="l" transform="translate(1396.1 219.3) scale(0.95 1)" text-anchor="middle" font-size="25">32</text>
<text class="l" transform="translate(1419.2 154.9) scale(0.95 1)" text-anchor="middle" font-size="25">35</text>
<rect x="1200.2" y="92.2" width="257.9" height="460.1" fill="none" stroke="#000" stroke-width="2"/>
<path stroke="#000" stroke-width="2" fill="none" d="M1200.2 552.3H1191.2M1200.2 494.8H1195.7M1200.2 437.3H1191.2M1200.2 379.8H1195.7M1200.2 322.2H1191.2M1200.2 264.7H1195.7M1200.2 207.2H1191.2M1200.2 149.7H1195.7M1200.2 92.2H1191.2M1200.2 552.3V561.3M1243.2 552.3V556.8M1286.2 552.3V561.3M1329.2 552.3V556.8M1372.1 552.3V561.3M1415.1 552.3V556.8M1458.1 552.3V561.3"/>
<text transform="translate(1185 561.1) scale(0.95 1)" text-anchor="end" font-size="30">180</text>
<text transform="translate(1185 446.1) scale(0.95 1)" text-anchor="end" font-size="30">200</text>
<text transform="translate(1185 331.1) scale(0.95 1)" text-anchor="end" font-size="30">220</text>
<text transform="translate(1185 216) scale(0.95 1)" text-anchor="end" font-size="30">240</text>
<text transform="translate(1185 101) scale(0.95 1)" text-anchor="end" font-size="30">260</text>
<text transform="translate(1200.2 590.3) scale(0.95 1)" text-anchor="middle" font-size="30">2</text>
<text transform="translate(1286.2 590.3) scale(0.95 1)" text-anchor="middle" font-size="30">4</text>
<text transform="translate(1372.1 590.3) scale(0.95 1)" text-anchor="middle" font-size="30">6</text>
<text transform="translate(1458.1 590.3) scale(0.95 1)" text-anchor="middle" font-size="30">8</text>
<clipPath id="c4"><rect x="111.2" y="642.2" width="257.6" height="460"/></clipPath>
<mask id="m4" maskUnits="userSpaceOnUse" x="106.2" y="637.2" width="267.6" height="470"><rect x="0" y="0" width="1480" height="1750" fill="#fff"/><rect x="122.4" y="1045" width="50.7" height="28" fill="#000"/><rect x="170.2" y="1001" width="50.7" height="28" fill="#000"/><rect x="202.6" y="939.9" width="48.8" height="28" fill="#000"/><rect x="234.3" y="866.6" width="50.7" height="28" fill="#000"/><rect x="257.9" y="813.7" width="50.7" height="28" fill="#000"/><rect x="282.3" y="739.6" width="50.7" height="28" fill="#000"/><rect x="307.5" y="680.7" width="50.7" height="28" fill="#000"/></mask>
<g clip-path="url(#c4)"><rect x="111.2" y="642.2" width="257.6" height="460" fill="#fcfdfe"/><path fill="#f7fafc" d="M109.2 640.2L370.2 640.2 370.2 1104.2 131 1104.2 109.2 1086.6Z"/><path fill="#f2f7fb" d="M109.2 640.2L370.2 640.2 370.2 1104.2 148.4 1104.2 109.2 1072.6Z"/><path fill="#edf4f9" d="M109.2 640.2L370.2 640.2 370.2 1104.2 165.7 1104.2 109.2 1058.6Z"/><path fill="#e7f1f7" d="M109.2 640.2L370.2 640.2 370.2 1104.2 183.1 1104.2 109.2 1044.7Z"/><path fill="#e2eef6" d="M109.2 640.2L370.2 640.2 370.2 1104.2 200.4 1104.2 109.2 1030.7Z"/><path fill="#ddeaf4" d="M109.2 640.2L370.2 640.2 370.2 1104.2 217.6 1104.2 109.2 1016.7Z"/><path fill="#d7e7f2" d="M109.2 640.2L370.2 640.2 370.2 1104.2 234.9 1104.2 109.2 1002.7Z"/><path fill="#d2e4f0" d="M109.2 640.2L370.2 640.2 370.2 1104.2 252.2 1104.2 109.2 988.8Z"/><path fill="#cde1ef" d="M109.2 640.2L370.2 640.2 370.2 1104.2 269.4 1104.2 109.2 974.8Z"/><path fill="#c8deed" d="M109.2 640.2L370.2 640.2 370.2 1104.2 286.7 1104.2 109.2 960.8Z"/><path fill="#c2dbeb" d="M109.2 640.2L370.2 640.2 370.2 1104.2 303.9 1104.2 109.2 946.9Z"/><path fill="#bdd7ea" d="M109.2 640.2L370.2 640.2 370.2 1104.2 321.1 1104.2 109.2 932.9Z"/><path fill="#b8d4e8" d="M109.2 640.2L370.2 640.2 370.2 1104.2 338.3 1104.2 109.2 919Z"/><path fill="#b3d1e6" d="M109.2 640.2L370.2 640.2 370.2 1104.2 355.5 1104.2 109.2 905Z"/><path fill="#adcee5" d="M109.2 640.2L370.2 640.2 370.2 1102.2 109.2 891.1Z"/><path fill="#a8cbe3" d="M109.2 640.2L370.2 640.2 370.2 1088.3 109.2 877.1Z"/><path fill="#a3c8e1" d="M109.2 640.2L370.2 640.2 370.2 1074.3 109.2 863.2Z"/><path fill="#9dc4df" d="M109.2 640.2L370.2 640.2 370.2 1060.4 109.2 849.2Z"/><path fill="#98c1de" d="M109.2 640.2L370.2 640.2 370.2 1046.5 109.2 835.3Z"/><path fill="#93bedc" d="M109.2 640.2L370.2 640.2 370.2 1032.6 109.2 821.4Z"/><path fill="#8ebbda" d="M109.2 640.2L370.2 640.2 370.2 1018.6 109.2 807.4Z"/><path fill="#88b8d9" d="M109.2 640.2L370.2 640.2 370.2 1004.7 109.2 793.5Z"/><path fill="#83b5d7" d="M109.2 640.2L370.2 640.2 370.2 990.8 109.2 779.6Z"/><path fill="#7eb1d5" d="M109.2 640.2L370.2 640.2 370.2 976.9 109.2 765.7Z"/><path fill="#79aed3" d="M109.2 640.2L370.2 640.2 370.2 963 109.2 751.7Z"/><path fill="#73abd2" d="M109.2 640.2L370.2 640.2 370.2 949.1 109.2 737.8Z"/><path fill="#6ea8d0" d="M109.2 640.2L370.2 640.2 370.2 935.2 109.2 723.9Z"/><path fill="#69a5ce" d="M109.2 640.2L370.2 640.2 370.2 921.3 109.2 710Z"/><path fill="#64a2cd" d="M109.2 640.2L370.2 640.2 370.2 907.4 109.2 696.1Z"/><path fill="#5e9ecb" d="M109.2 640.2L370.2 640.2 370.2 893.5 109.2 682.2Z"/><path fill="#599bc9" d="M109.2 640.2L370.2 640.2 370.2 879.6 109.2 668.3Z"/><path fill="#5498c7" d="M109.2 640.2L370.2 640.2 370.2 865.7 109.2 654.4Z"/><path fill="#4e95c6" d="M109.2 640.5L370.2 640.2 370.2 851.8Z"/><path fill="#4992c4" d="M126.1 640.2L370.2 640.2 370.2 837.9Z"/><path fill="#448fc2" d="M143.3 640.2L370.2 640.2 370.2 824.1Z"/><path fill="#3f8bc1" d="M160.5 640.2L370.2 640.2 370.2 810.2Z"/><path fill="#3988bf" d="M177.7 640.2L370.2 640.2 370.2 796.3Z"/><path fill="#3485bd" d="M194.8 640.2L370.2 640.2 370.2 782.4Z"/><path fill="#2f82bc" d="M212 640.2L370.2 640.2 370.2 768.6Z"/><path fill="#2a7fba" d="M229.1 640.2L370.2 640.2 370.2 754.7Z"/><path fill="#247cb8" d="M246.2 640.2L370.2 640.2 370.2 740.8Z"/><path fill="#1f78b6" d="M263.4 640.2L370.2 640.2 370.2 727Z"/><path fill="#1a75b5" d="M280.5 640.2L370.2 640.2 370.2 713.1Z"/><path fill="#1472b3" d="M297.5 640.2L370.2 640.2 370.2 699.2Z"/><path fill="#0f6fb1" d="M314.6 640.2L370.2 640.2 370.2 685.4Z"/><path fill="#0a6cb0" d="M331.7 640.2L370.2 640.2 370.2 671.5Z"/><path fill="#0569ae" d="M348.7 640.2L370.2 640.2 370.2 657.7Z"/><path fill="none" stroke="#333333" stroke-width="1.55" mask="url(#m4)" d="M214.4 1104.2L109.2 1019.3M318.7 1104.2L109.2 934.9M370.2 1061.8L109.2 850.6M370.2 977.6L109.2 766.4M370.2 893.6L109.2 682.3M370.2 809.6L161.2 640.2M370.2 725.8L264.8 640.2"/></g>
<text class="l" transform="translate(147.8 1067) scale(0.95 1)" text-anchor="middle" font-size="25">0.05</text>
<text class="l" transform="translate(195.5 1023.1) scale(0.95 1)" text-anchor="middle" font-size="25">0.08</text>
<text class="l" transform="translate(227 962) scale(0.95 1)" text-anchor="middle" font-size="25">0.11</text>
<text class="l" transform="translate(259.6 888.7) scale(0.95 1)" text-anchor="middle" font-size="25">0.14</text>
<text class="l" transform="translate(283.2 835.8) scale(0.95 1)" text-anchor="middle" font-size="25">0.18</text>
<text class="l" transform="translate(307.6 761.7) scale(0.95 1)" text-anchor="middle" font-size="25">0.21</text>
<text class="l" transform="translate(332.9 702.8) scale(0.95 1)" text-anchor="middle" font-size="25">0.24</text>
<rect x="111.2" y="642.2" width="257.6" height="460" fill="none" stroke="#000" stroke-width="2"/>
<path stroke="#000" stroke-width="2" fill="none" d="M111.2 1102.2H102.2M111.2 1044.7H106.7M111.2 987.2H102.2M111.2 929.7H106.7M111.2 872.2H102.2M111.2 814.7H106.7M111.2 757.2H102.2M111.2 699.7H106.7M111.2 642.2H102.2M111.2 1102.2V1111.2M154.1 1102.2V1106.7M197.1 1102.2V1111.2M240 1102.2V1106.7M282.9 1102.2V1111.2M325.9 1102.2V1106.7M368.8 1102.2V1111.2"/>
<text transform="translate(96 1111) scale(0.95 1)" text-anchor="end" font-size="30">180</text>
<text transform="translate(96 996) scale(0.95 1)" text-anchor="end" font-size="30">200</text>
<text transform="translate(96 881) scale(0.95 1)" text-anchor="end" font-size="30">220</text>
<text transform="translate(96 766) scale(0.95 1)" text-anchor="end" font-size="30">240</text>
<text transform="translate(96 651) scale(0.95 1)" text-anchor="end" font-size="30">260</text>
<text transform="translate(111.2 1140.2) scale(0.95 1)" text-anchor="middle" font-size="30">2</text>
<text transform="translate(197.1 1140.2) scale(0.95 1)" text-anchor="middle" font-size="30">4</text>
<text transform="translate(282.9 1140.2) scale(0.95 1)" text-anchor="middle" font-size="30">6</text>
<text transform="translate(368.8 1140.2) scale(0.95 1)" text-anchor="middle" font-size="30">8</text>
<clipPath id="c5"><rect x="474" y="642.2" width="258.3" height="460"/></clipPath>
<mask id="m5" maskUnits="userSpaceOnUse" x="469" y="637.2" width="268.3" height="470"><rect x="0" y="0" width="1480" height="1750" fill="#fff"/><rect x="664.3" y="673.9" width="50.7" height="28" fill="#000"/><rect x="638.5" y="742.6" width="50.7" height="28" fill="#000"/><rect x="621.7" y="815.6" width="50.7" height="28" fill="#000"/><rect x="597.3" y="896" width="50.7" height="28" fill="#000"/><rect x="558.4" y="952.7" width="50.7" height="28" fill="#000"/><rect x="524" y="995" width="50.7" height="28" fill="#000"/><rect x="486.5" y="1045" width="50.7" height="28" fill="#000"/></mask>
<g clip-path="url(#c5)"><rect x="474" y="642.2" width="258.3" height="460" fill="#fcfdfe"/><path fill="#f7fafc" d="M472 640.2L718.5 640.2 734 663.9 734 1104.2 472 1104.2Z"/><path fill="#f2f7fb" d="M472 640.2L706.4 640.2 734 682.6 734 1104.2 472 1104.2Z"/><path fill="#edf4f9" d="M472 640.2L694.3 640.2 734 701.1 734 1104.2 472 1104.2Z"/><path fill="#e7f1f7" d="M472 640.2L682.2 640.2 734 719.7 734 1104.2 472 1104.2Z"/><path fill="#e2eef6" d="M472 640.2L670.1 640.2 734 738.1 734 1104.2 472 1104.2Z"/><path fill="#ddeaf4" d="M472 640.2L658 640.2 734 756.5 734 1104.2 472 1104.2Z"/><path fill="#d7e7f2" d="M472 640.2L646 640.2 734 774.9 734 1104.2 472 1104.2Z"/><path fill="#d2e4f0" d="M472 640.2L634 640.2 734 793.2 734 1104.2 472 1104.2Z"/><path fill="#cde1ef" d="M472 640.2L622 640.2 734 811.5 734 1104.2 472 1104.2Z"/><path fill="#c8deed" d="M472 640.2L610 640.2 734 829.7 734 1104.2 472 1104.2Z"/><path fill="#c2dbeb" d="M472 640.2L598 640.2 734 847.9 734 1104.2 472 1104.2Z"/><path fill="#bdd7ea" d="M472 640.2L586.1 640.2 734 866 734 1104.2 472 1104.2Z"/><path fill="#b8d4e8" d="M472 640.2L574.2 640.2 734 884 734 1104.2 472 1104.2Z"/><path fill="#b3d1e6" d="M472 640.2L562.3 640.2 734 902.1 734 1104.2 472 1104.2Z"/><path fill="#adcee5" d="M472 640.2L550.4 640.2 734 920 734 1104.2 472 1104.2Z"/><path fill="#a8cbe3" d="M472 640.2L538.5 640.2 734 938 734 1104.2 472 1104.2Z"/><path fill="#a3c8e1" d="M472 640.2L526.7 640.2 734 955.8 734 1104.2 472 1104.2Z"/><path fill="#9dc4df" d="M472 640.2L514.8 640.2 734 973.7 734 1104.2 472 1104.2Z"/><path fill="#98c1de" d="M472 640.2L503 640.2 618 815.7 734 991.4 734 1104.2 472 1104.2Z"/><path fill="#93bedc" d="M472 640.2L491.2 640.2 612 824.5 734 1009.2 734 1104.2 472 1104.2Z"/><path fill="#8ebbda" d="M472 640.2L479.5 640.2 606 833.2 734 1026.9 734 1104.2 472 1104.2Z"/><path fill="#88b8d9" d="M472 646.7L602.1 845.2 734 1044.5 734 1104.2 472 1104.2Z"/><path fill="#83b5d7" d="M472 664.7L602.9 864.2 734 1062.1 734 1104.2 472 1104.2Z"/><path fill="#7eb1d5" d="M472 682.6L603 882 734 1079.7 734 1104.2 472 1104.2Z"/><path fill="#79aed3" d="M472 700.5L602 898.2 734 1097.2 734 1104.2 472 1104.2Z"/><path fill="#73abd2" d="M472 718.3L599 911.3 727 1104.2 472 1104.2Z"/><path fill="#6ea8d0" d="M472.1 736.2L593 919.8 715.4 1104.2 472 1104.2Z"/><path fill="#69a5ce" d="M472 753.8L587 928.3 703.8 1104.2 472 1104.2Z"/><path fill="#64a2cd" d="M472 771.5L581.9 938.2 692.2 1104.2 472 1104.2Z"/><path fill="#5e9ecb" d="M472.1 789.2L576 946.7 680.6 1104.2 472 1104.2Z"/><path fill="#599bc9" d="M472 806.7L570.1 955.2 669.1 1104.2 472 1104.2Z"/><path fill="#5498c7" d="M472 824.2L565 965 657.5 1104.2 472 1104.2Z"/><path fill="#4e95c6" d="M472 841.7L558.9 973.2 646 1104.2 472 1104.2Z"/><path fill="#4992c4" d="M472 859.2L553 981.6 634.5 1104.2 472 1104.2Z"/><path fill="#448fc2" d="M472 876.6L547.9 991.2 623.1 1104.2 472 1104.2Z"/><path fill="#3f8bc1" d="M472.1 894.2L541.7 999.2 611.6 1104.2 472 1104.2Z"/><path fill="#3988bf" d="M472 911.3L536.2 1008.2 600.1 1104.2 472 1104.2Z"/><path fill="#3485bd" d="M472 928.6L530.1 1016.2 588.7 1104.2 472 1104.2Z"/><path fill="#2f82bc" d="M472 945.9L524 1024.2 577.3 1104.2 472 1104.2Z"/><path fill="#2a7fba" d="M472.1 963.2L519 1033.8 565.9 1104.2 472 1104.2Z"/><path fill="#247cb8" d="M472 980.2L513.9 1043.2 554.5 1104.2 472 1104.2Z"/><path fill="#1f78b6" d="M472 997.3L507.8 1051.2 543.2 1104.2 472 1104.2Z"/><path fill="#1a75b5" d="M472 1014.4L502 1059.5 531.8 1104.2 472 1104.2Z"/><path fill="#1472b3" d="M472 1031.5L496.5 1068.2 520.5 1104.2 472 1104.2Z"/><path fill="#0f6fb1" d="M472 1048.5L491 1077 509.2 1104.2 472 1104.2Z"/><path fill="#0a6cb0" d="M472 1065.4L485.2 1085.2 497.9 1104.2 472 1104.2Z"/><path fill="#0569ae" d="M472 1082.3L479.9 1094.2 486.6 1104.2 472 1104.2Z"/><path fill="none" stroke="#333333" stroke-width="1.55" mask="url(#m5)" d="M660.1 640.2L734 753.4M587.8 640.2L734 863.4M516.1 640.2L624.8 806.2 734 971.7M472 681.2L602.1 879.2 734 1078.3M472 788.3L576.2 946.2 681.2 1104.2M472 893.7L611.8 1104.2M472 997.6L543 1104.2"/></g>
<text class="l" transform="translate(689.6 696) scale(0.95 1)" text-anchor="middle" font-size="25">16.1</text>
<text class="l" transform="translate(663.9 764.7) scale(0.95 1)" text-anchor="middle" font-size="25">16.3</text>
<text class="l" transform="translate(647 837.7) scale(0.95 1)" text-anchor="middle" font-size="25">16.4</text>
<text class="l" transform="translate(622.6 918) scale(0.95 1)" text-anchor="middle" font-size="25">16.5</text>
<text class="l" transform="translate(583.8 974.7) scale(0.95 1)" text-anchor="middle" font-size="25">16.6</text>
<text class="l" transform="translate(549.3 1017.1) scale(0.95 1)" text-anchor="middle" font-size="25">16.8</text>
<text class="l" transform="translate(511.9 1067) scale(0.95 1)" text-anchor="middle" font-size="25">16.9</text>
<rect x="474" y="642.2" width="258.3" height="460" fill="none" stroke="#000" stroke-width="2"/>
<path stroke="#000" stroke-width="2" fill="none" d="M474 1102.2H465M474 1044.7H469.5M474 987.2H465M474 929.7H469.5M474 872.2H465M474 814.7H469.5M474 757.2H465M474 699.7H469.5M474 642.2H465M474 1102.2V1111.2M517 1102.2V1106.7M560.1 1102.2V1111.2M603.1 1102.2V1106.7M646.2 1102.2V1111.2M689.2 1102.2V1106.7M732.3 1102.2V1111.2"/>
<text transform="translate(458.8 1111) scale(0.95 1)" text-anchor="end" font-size="30">180</text>
<text transform="translate(458.8 996) scale(0.95 1)" text-anchor="end" font-size="30">200</text>
<text transform="translate(458.8 881) scale(0.95 1)" text-anchor="end" font-size="30">220</text>
<text transform="translate(458.8 766) scale(0.95 1)" text-anchor="end" font-size="30">240</text>
<text transform="translate(458.8 651) scale(0.95 1)" text-anchor="end" font-size="30">260</text>
<text transform="translate(474 1140.2) scale(0.95 1)" text-anchor="middle" font-size="30">2</text>
<text transform="translate(560.1 1140.2) scale(0.95 1)" text-anchor="middle" font-size="30">4</text>
<text transform="translate(646.2 1140.2) scale(0.95 1)" text-anchor="middle" font-size="30">6</text>
<text transform="translate(732.3 1140.2) scale(0.95 1)" text-anchor="middle" font-size="30">8</text>
<clipPath id="c6"><rect x="837.6" y="642.2" width="258.2" height="460"/></clipPath>
<mask id="m6" maskUnits="userSpaceOnUse" x="832.6" y="637.2" width="268.2" height="470"><rect x="0" y="0" width="1480" height="1750" fill="#fff"/><rect x="1044.9" y="1064" width="50.7" height="28" fill="#000"/><rect x="1012" y="995.6" width="48.8" height="28" fill="#000"/><rect x="978.4" y="927.2" width="50.7" height="28" fill="#000"/><rect x="936.4" y="858" width="50.7" height="28" fill="#000"/><rect x="902.4" y="789.8" width="50.7" height="28" fill="#000"/><rect x="853" y="718.2" width="50.7" height="28" fill="#000"/><rect x="820.2" y="650.3" width="50.7" height="28" fill="#000"/></mask>
<g clip-path="url(#c6)"><rect x="837.6" y="642.2" width="258.2" height="460" fill="#fcfdfe"/><path fill="#f7fafc" d="M835.6 640.2L1097.6 640.2 1097.6 1104.2 917 1104.2 835.6 1091.5Z"/><path fill="#f2f7fb" d="M835.6 640.2L1097.6 640.2 1097.6 1104.2 983.6 1104.2 835.6 1081Z"/><path fill="#edf4f9" d="M835.6 640.2L1097.6 640.2 1097.6 1104.2 1050.2 1104.2 835.6 1070.6Z"/><path fill="#e7f1f7" d="M835.6 640.2L1097.6 640.2 1097.6 1101.2 835.6 1060.2Z"/><path fill="#e2eef6" d="M835.6 640.2L1097.6 640.2 1097.6 1090.8 835.6 1049.8Z"/><path fill="#ddeaf4" d="M835.6 640.2L1097.6 640.2 1097.6 1080.3 835.6 1039.3Z"/><path fill="#d7e7f2" d="M835.6 640.2L1097.6 640.2 1097.6 1069.9 835.6 1028.9Z"/><path fill="#d2e4f0" d="M835.6 640.2L1097.6 640.2 1097.6 1059.5 835.6 1018.5Z"/><path fill="#cde1ef" d="M835.6 640.2L1097.6 640.2 1097.6 1049.1 835.6 1008.1Z"/><path fill="#c8deed" d="M835.6 640.2L1097.6 640.2 1097.6 1038.6 835.6 997.6Z"/><path fill="#c2dbeb" d="M835.6 640.2L1097.6 640.2 1097.6 1028.2 835.6 987.2Z"/><path fill="#bdd7ea" d="M835.6 640.2L1097.6 640.2 1097.6 1017.8 835.6 976.8Z"/><path fill="#b8d4e8" d="M835.6 640.2L1097.6 640.2 1097.6 1007.4 835.6 966.4Z"/><path fill="#b3d1e6" d="M835.6 640.2L1097.6 640.2 1097.6 997 835.6 955.9Z"/><path fill="#adcee5" d="M835.6 640.2L1097.6 640.2 1097.6 986.5 835.6 945.5Z"/><path fill="#a8cbe3" d="M835.6 640.2L1097.6 640.2 1097.6 976.1 835.6 935.1Z"/><path fill="#a3c8e1" d="M835.6 640.2L1097.6 640.2 1097.6 965.7 835.6 924.7Z"/><path fill="#9dc4df" d="M835.6 640.2L1097.6 640.2 1097.6 955.3 835.6 914.2Z"/><path fill="#98c1de" d="M835.6 640.2L1097.6 640.2 1097.6 944.8 835.6 903.8Z"/><path fill="#93bedc" d="M835.6 640.2L1097.6 640.2 1097.6 934.4 835.6 893.4Z"/><path fill="#8ebbda" d="M835.6 640.2L1097.6 640.2 1097.6 924 835.6 883Z"/><path fill="#88b8d9" d="M835.6 640.2L1097.6 640.2 1097.6 913.6 835.6 872.5Z"/><path fill="#83b5d7" d="M835.6 640.2L1097.6 640.2 1097.6 903.1 835.6 862.1Z"/><path fill="#7eb1d5" d="M835.6 640.2L1097.6 640.2 1097.6 892.7 835.6 851.7Z"/><path fill="#79aed3" d="M835.6 640.2L1097.6 640.2 1097.6 882.3 835.6 841.3Z"/><path fill="#73abd2" d="M835.6 640.2L1097.6 640.2 1097.6 871.9 835.6 830.8Z"/><path fill="#6ea8d0" d="M835.6 640.2L1097.6 640.2 1097.6 861.4 835.6 820.4Z"/><path fill="#69a5ce" d="M835.6 640.2L1097.6 640.2 1097.6 851 835.6 810Z"/><path fill="#64a2cd" d="M835.6 640.2L1097.6 640.2 1097.6 840.6 835.6 799.6Z"/><path fill="#5e9ecb" d="M835.6 640.2L1097.6 640.2 1097.6 830.2 835.6 789.1Z"/><path fill="#599bc9" d="M835.6 640.2L1097.6 640.2 1097.6 819.7 835.6 778.7Z"/><path fill="#5498c7" d="M835.6 640.2L1097.6 640.2 1097.6 809.3 835.6 768.3Z"/><path fill="#4e95c6" d="M835.6 640.2L1097.6 640.2 1097.6 798.9 835.6 757.9Z"/><path fill="#4992c4" d="M835.6 640.2L1097.6 640.2 1097.6 788.5 835.6 747.4Z"/><path fill="#448fc2" d="M835.6 640.2L1097.6 640.2 1097.6 778 835.6 737Z"/><path fill="#3f8bc1" d="M835.6 640.2L1097.6 640.2 1097.6 767.6 835.6 726.6Z"/><path fill="#3988bf" d="M835.6 640.2L1097.6 640.2 1097.6 757.2 835.6 716.2Z"/><path fill="#3485bd" d="M835.6 640.2L1097.6 640.2 1097.6 746.8 835.6 705.8Z"/><path fill="#2f82bc" d="M835.6 640.2L1097.6 640.2 1097.6 736.3 835.6 695.3Z"/><path fill="#2a7fba" d="M835.6 640.2L1097.6 640.2 1097.6 725.9 835.6 684.9Z"/><path fill="#247cb8" d="M835.6 640.2L1097.6 640.2 1097.6 715.5 835.6 674.5Z"/><path fill="#1f78b6" d="M835.6 640.2L1097.6 640.2 1097.6 705.1 835.6 664.1Z"/><path fill="#1a75b5" d="M835.6 640.2L1097.6 640.2 1097.6 694.6 835.6 653.6Z"/><path fill="#1472b3" d="M835.6 640.2L1097.6 640.2 1097.6 684.2 835.6 643.2Z"/><path fill="#0f6fb1" d="M883 640.2L1097.6 640.2 1097.6 673.8Z"/><path fill="#0a6cb0" d="M949.6 640.2L1097.6 640.2 1097.6 663.4Z"/><path fill="#0569ae" d="M1016.2 640.2L1097.6 640.2 1097.6 652.9Z"/><path fill="none" stroke="#333333" stroke-width="1.55" mask="url(#m6)" d="M1097.6 1082.2L835.6 1041.2M1097.6 1019.1L835.6 978.1M1097.6 956.1L835.6 915.1M1097.6 893L835.6 852M1097.6 829.9L835.6 788.9M1097.6 766.8L835.6 725.8M1097.6 703.7L835.6 662.7"/></g>
<text class="l" transform="translate(1070.3 1086) scale(0.95 1)" text-anchor="middle" font-size="25">0.10</text>
<text class="l" transform="translate(1036.4 1017.6) scale(0.95 1)" text-anchor="middle" font-size="25">0.11</text>
<text class="l" transform="translate(1003.8 949.2) scale(0.95 1)" text-anchor="middle" font-size="25">0.12</text>
<text class="l" transform="translate(961.7 880) scale(0.95 1)" text-anchor="middle" font-size="25">0.13</text>
<text class="l" transform="translate(927.8 811.9) scale(0.95 1)" text-anchor="middle" font-size="25">0.14</text>
<text class="l" transform="translate(878.4 740.2) scale(0.95 1)" text-anchor="middle" font-size="25">0.16</text>
<text class="l" transform="translate(845.5 672.4) scale(0.95 1)" text-anchor="middle" font-size="25">0.17</text>
<rect x="837.6" y="642.2" width="258.2" height="460" fill="none" stroke="#000" stroke-width="2"/>
<path stroke="#000" stroke-width="2" fill="none" d="M837.6 1102.2H828.6M837.6 1044.7H833.1M837.6 987.2H828.6M837.6 929.7H833.1M837.6 872.2H828.6M837.6 814.7H833.1M837.6 757.2H828.6M837.6 699.7H833.1M837.6 642.2H828.6M837.6 1102.2V1111.2M880.6 1102.2V1106.7M923.7 1102.2V1111.2M966.7 1102.2V1106.7M1009.7 1102.2V1111.2M1052.8 1102.2V1106.7M1095.8 1102.2V1111.2"/>
<text transform="translate(822.4 1111) scale(0.95 1)" text-anchor="end" font-size="30">180</text>
<text transform="translate(822.4 996) scale(0.95 1)" text-anchor="end" font-size="30">200</text>
<text transform="translate(822.4 881) scale(0.95 1)" text-anchor="end" font-size="30">220</text>
<text transform="translate(822.4 766) scale(0.95 1)" text-anchor="end" font-size="30">240</text>
<text transform="translate(822.4 651) scale(0.95 1)" text-anchor="end" font-size="30">260</text>
<text transform="translate(837.6 1140.2) scale(0.95 1)" text-anchor="middle" font-size="30">2</text>
<text transform="translate(923.7 1140.2) scale(0.95 1)" text-anchor="middle" font-size="30">4</text>
<text transform="translate(1009.7 1140.2) scale(0.95 1)" text-anchor="middle" font-size="30">6</text>
<text transform="translate(1095.8 1140.2) scale(0.95 1)" text-anchor="middle" font-size="30">8</text>
<clipPath id="c7"><rect x="1200.2" y="642.2" width="257.9" height="460"/></clipPath>
<mask id="m7" maskUnits="userSpaceOnUse" x="1195.2" y="637.2" width="267.9" height="470"><rect x="0" y="0" width="1480" height="1750" fill="#fff"/><rect x="1400.3" y="687.5" width="50.7" height="28" fill="#000"/><rect x="1379.4" y="756.2" width="50.7" height="28" fill="#000"/><rect x="1346.9" y="825.1" width="50.7" height="28" fill="#000"/><rect x="1323.3" y="896.5" width="50.7" height="28" fill="#000"/><rect x="1290.7" y="952.7" width="50.7" height="28" fill="#000"/><rect x="1255.4" y="992.9" width="50.7" height="28" fill="#000"/><rect x="1212.5" y="1044.4" width="50.7" height="28" fill="#000"/></mask>
<g clip-path="url(#c7)"><rect x="1200.2" y="642.2" width="257.9" height="460" fill="#fcfdfe"/><path fill="#f7fafc" d="M1198.2 640.2L1443.9 640.2 1459.2 663.5 1459.2 1104.2 1198.2 1104.2Z"/><path fill="#f2f7fb" d="M1198.2 640.2L1431.9 640.2 1459.2 681.8 1459.2 1104.2 1198.2 1104.2Z"/><path fill="#edf4f9" d="M1198.2 640.2L1419.9 640.2 1459.2 700 1459.2 1104.2 1198.2 1104.2Z"/><path fill="#e7f1f7" d="M1198.2 640.2L1407.9 640.2 1459.2 718.3 1459.2 1104.2 1198.2 1104.2Z"/><path fill="#e2eef6" d="M1198.2 640.2L1396 640.2 1459.2 736.5 1459.2 1104.2 1198.2 1104.2Z"/><path fill="#ddeaf4" d="M1198.2 640.2L1384 640.2 1459.2 754.6 1459.2 1104.2 1198.2 1104.2Z"/><path fill="#d7e7f2" d="M1198.2 640.2L1372.1 640.2 1459.2 772.8 1459.2 1104.2 1198.2 1104.2Z"/><path fill="#d2e4f0" d="M1198.2 640.2L1360.2 640.2 1459.2 790.9 1459.2 1104.2 1198.2 1104.2Z"/><path fill="#cde1ef" d="M1198.2 640.2L1348.3 640.2 1459.2 809 1459.2 1104.2 1198.2 1104.2Z"/><path fill="#c8deed" d="M1198.2 640.2L1336.4 640.2 1459.2 827.1 1459.2 1104.2 1198.2 1104.2Z"/><path fill="#c2dbeb" d="M1198.2 640.2L1324.5 640.2 1459.2 845.1 1459.2 1104.2 1198.2 1104.2Z"/><path fill="#bdd7ea" d="M1198.2 640.2L1312.6 640.2 1459.2 863.2 1459.2 1104.2 1198.2 1104.2Z"/><path fill="#b8d4e8" d="M1198.2 640.2L1300.8 640.2 1459.2 881.2 1459.2 1104.2 1198.2 1104.2Z"/><path fill="#b3d1e6" d="M1198.2 640.2L1289 640.2 1459.2 899.2 1459.2 1104.2 1198.2 1104.2Z"/><path fill="#adcee5" d="M1198.2 640.2L1277.1 640.2 1459.2 917.1 1459.2 1104.2 1198.2 1104.2Z"/><path fill="#a8cbe3" d="M1198.2 640.2L1265.3 640.2 1459.2 935.1 1459.2 1104.2 1198.2 1104.2Z"/><path fill="#a3c8e1" d="M1198.2 640.2L1253.5 640.2 1459.2 953 1459.2 1104.2 1198.2 1104.2Z"/><path fill="#9dc4df" d="M1198.2 640.2L1241.7 640.2 1459.2 970.9 1459.2 1104.2 1198.2 1104.2Z"/><path fill="#98c1de" d="M1198.2 640.2L1230 640.2 1459.2 988.8 1459.2 1104.2 1198.2 1104.2Z"/><path fill="#93bedc" d="M1198.2 640.2L1218.2 640.2 1459.2 1006.6 1459.2 1104.2 1198.2 1104.2Z"/><path fill="#8ebbda" d="M1198.2 640.2L1206.5 640.2 1459.2 1024.5 1459.2 1104.2 1198.2 1104.2Z"/><path fill="#88b8d9" d="M1198.2 645.4L1459.2 1042.3 1459.2 1104.2 1198.2 1104.2Z"/><path fill="#83b5d7" d="M1198.2 663.2L1459.2 1060.1 1459.2 1104.2 1198.2 1104.2Z"/><path fill="#7eb1d5" d="M1198.2 680.8L1459.2 1077.8 1459.2 1104.2 1198.2 1104.2Z"/><path fill="#79aed3" d="M1198.2 698.5L1459.2 1095.6 1459.2 1104.2 1198.2 1104.2Z"/><path fill="#73abd2" d="M1198.2 716.2L1325.4 909.2 1453.3 1104.2 1198.2 1104.2Z"/><path fill="#6ea8d0" d="M1198.2 733.8L1319.7 918.2 1441.7 1104.2 1198.2 1104.2Z"/><path fill="#69a5ce" d="M1198.2 751.4L1314.7 928.2 1430.1 1104.2 1198.2 1104.2Z"/><path fill="#64a2cd" d="M1198.3 769.2L1308.4 936.2 1418.6 1104.2 1198.2 1104.2Z"/><path fill="#5e9ecb" d="M1198.2 786.5L1302.7 945.2 1407.1 1104.2 1198.2 1104.2Z"/><path fill="#599bc9" d="M1198.3 804.2L1297.1 954.2 1395.5 1104.2 1198.2 1104.2Z"/><path fill="#5498c7" d="M1198.2 821.6L1291.5 963.2 1384 1104.2 1198.2 1104.2Z"/><path fill="#4e95c6" d="M1198.3 839.2L1285.9 972.2 1372.5 1104.2 1198.2 1104.2Z"/><path fill="#4992c4" d="M1198.2 856.6L1279.6 980.2 1361 1104.2 1198.2 1104.2Z"/><path fill="#448fc2" d="M1198.3 874.2L1274.1 989.2 1349.6 1104.2 1198.2 1104.2Z"/><path fill="#3f8bc1" d="M1198.2 891.5L1268.5 998.2 1338.1 1104.2 1198.2 1104.2Z"/><path fill="#3988bf" d="M1198.2 908.9L1262.9 1007.2 1326.7 1104.2 1198.2 1104.2Z"/><path fill="#3485bd" d="M1198.2 926.3L1256.8 1015.2 1315.2 1104.2 1198.2 1104.2Z"/><path fill="#2f82bc" d="M1198.2 943.7L1250.6 1023.2 1303.8 1104.2 1198.2 1104.2Z"/><path fill="#2a7fba" d="M1198.3 961.2L1245.7 1033.2 1292.4 1104.2 1198.2 1104.2Z"/><path fill="#247cb8" d="M1198.2 978.4L1239.6 1041.2 1281 1104.2 1198.2 1104.2Z"/><path fill="#1f78b6" d="M1198.2 995.7L1234.1 1050.2 1269.6 1104.2 1198.2 1104.2Z"/><path fill="#1a75b5" d="M1198.3 1013.2L1228.6 1059.2 1258.2 1104.2 1198.2 1104.2Z"/><path fill="#1472b3" d="M1198.2 1030.3L1222.5 1067.2 1246.9 1104.2 1198.2 1104.2Z"/><path fill="#0f6fb1" d="M1198.2 1047.5L1217.1 1076.2 1235.5 1104.2 1198.2 1104.2Z"/><path fill="#0a6cb0" d="M1198.2 1064.8L1211.7 1085.2 1224.2 1104.2 1198.2 1104.2Z"/><path fill="#0569ae" d="M1198.4 1082.2L1205.6 1093.2 1212.8 1104.2 1198.2 1104.2Z"/><path fill="none" stroke="#333333" stroke-width="1.55" mask="url(#m7)" d="M1387 640.2L1459.2 750.1M1315 640.2L1459.2 859.6M1243.5 640.2L1459.2 968.3M1198.2 679.2L1328.8 877.2 1459.2 1076.1M1198.2 785.8L1407.5 1104.2M1198.2 891.7L1338 1104.2M1198.2 996.8L1268.9 1104.2"/></g>
<text class="l" transform="translate(1425.7 709.6) scale(0.95 1)" text-anchor="middle" font-size="25">19.9</text>
<text class="l" transform="translate(1404.8 778.2) scale(0.95 1)" text-anchor="middle" font-size="25">20.1</text>
<text class="l" transform="translate(1372.2 847.2) scale(0.95 1)" text-anchor="middle" font-size="25">20.2</text>
<text class="l" transform="translate(1348.6 918.6) scale(0.95 1)" text-anchor="middle" font-size="25">20.4</text>
<text class="l" transform="translate(1316 974.7) scale(0.95 1)" text-anchor="middle" font-size="25">20.6</text>
<text class="l" transform="translate(1280.7 1014.9) scale(0.95 1)" text-anchor="middle" font-size="25">20.7</text>
<text class="l" transform="translate(1237.9 1066.5) scale(0.95 1)" text-anchor="middle" font-size="25">20.9</text>
<rect x="1200.2" y="642.2" width="257.9" height="460" fill="none" stroke="#000" stroke-width="2"/>
<path stroke="#000" stroke-width="2" fill="none" d="M1200.2 1102.2H1191.2M1200.2 1044.7H1195.7M1200.2 987.2H1191.2M1200.2 929.7H1195.7M1200.2 872.2H1191.2M1200.2 814.7H1195.7M1200.2 757.2H1191.2M1200.2 699.7H1195.7M1200.2 642.2H1191.2M1200.2 1102.2V1111.2M1243.2 1102.2V1106.7M1286.2 1102.2V1111.2M1329.2 1102.2V1106.7M1372.1 1102.2V1111.2M1415.1 1102.2V1106.7M1458.1 1102.2V1111.2"/>
<text transform="translate(1185 1111) scale(0.95 1)" text-anchor="end" font-size="30">180</text>
<text transform="translate(1185 996) scale(0.95 1)" text-anchor="end" font-size="30">200</text>
<text transform="translate(1185 881) scale(0.95 1)" text-anchor="end" font-size="30">220</text>
<text transform="translate(1185 766) scale(0.95 1)" text-anchor="end" font-size="30">240</text>
<text transform="translate(1185 651) scale(0.95 1)" text-anchor="end" font-size="30">260</text>
<text transform="translate(1200.2 1140.2) scale(0.95 1)" text-anchor="middle" font-size="30">2</text>
<text transform="translate(1286.2 1140.2) scale(0.95 1)" text-anchor="middle" font-size="30">4</text>
<text transform="translate(1372.1 1140.2) scale(0.95 1)" text-anchor="middle" font-size="30">6</text>
<text transform="translate(1458.1 1140.2) scale(0.95 1)" text-anchor="middle" font-size="30">8</text>
<clipPath id="c8"><rect x="111.2" y="1191.2" width="257.6" height="460"/></clipPath>
<mask id="m8" maskUnits="userSpaceOnUse" x="106.2" y="1186.2" width="267.6" height="470"><rect x="0" y="0" width="1480" height="1750" fill="#fff"/><rect x="223.9" y="1210.7" width="50.7" height="28" fill="#000"/><rect x="102.6" y="1217.5" width="50.7" height="28" fill="#000"/><rect x="290.4" y="1487.6" width="50.7" height="28" fill="#000"/><rect x="259.2" y="1522.9" width="50.7" height="28" fill="#000"/><rect x="215.3" y="1556.8" width="50.7" height="28" fill="#000"/><rect x="170.2" y="1583.9" width="50.7" height="28" fill="#000"/><rect x="116.7" y="1612.4" width="50.7" height="28" fill="#000"/></mask>
<g clip-path="url(#c8)"><rect x="111.2" y="1191.2" width="257.6" height="460" fill="#fcfdfe"/><path fill="#f7fafc" d="M109.2 1189.2L353.1 1189.2 350.3 1203.2 349 1216.2 349.1 1229.2 350.5 1242.2 353.5 1256.2 357.7 1269.2 363.2 1282.2 370.2 1295.5 370.2 1653.2 109.2 1653.2Z"/><path fill="#f2f7fb" d="M109.2 1189.2L333.9 1189.2 330.7 1206.2 329.7 1223.2 330.9 1240.2 334.4 1257.2 340.2 1274.2 347.7 1290.2 357.9 1307.2 370.2 1324 370.2 1653.2 109.2 1653.2Z"/><path fill="#edf4f9" d="M109.2 1189.2L314.8 1189.2 312.5 1199.2 311.1 1209.2 310.4 1219.2 310.5 1229.2 311.4 1239.2 313.1 1249.2 318.5 1268.2 322.4 1278.2 327.2 1288.2 338.3 1307.2 353.2 1327.2 370.2 1346.2 370.2 1653.2 109.2 1653.2Z"/><path fill="#e7f1f7" d="M109.2 1189.2L295.6 1189.2 293.1 1200.2 291.6 1211.2 291.1 1222.2 291.5 1233.2 292.8 1244.2 295.1 1255.2 298.4 1266.2 302.6 1277.2 307.7 1288.2 313.8 1299.2 320.8 1310.2 328.8 1321.2 337.8 1332.2 347.7 1343.2 370.2 1365 370.2 1653.2 109.2 1653.2Z"/><path fill="#e2eef6" d="M109.2 1189.2L276.3 1189.2 273.6 1201.2 272.1 1213.2 271.7 1225.2 272.4 1237.2 274.3 1249.2 277.3 1261.2 281.4 1273.2 286.7 1285.2 293.1 1297.2 300.6 1309.2 309.3 1321.2 319 1333.2 329.9 1345.2 342 1357.2 355.2 1369.2 370.2 1381.7 370.2 1653.2 109.2 1653.2Z"/><path fill="#ddeaf4" d="M109.2 1189.2L256.9 1189.2 254.1 1202.2 252.5 1215.2 252.3 1228.2 253.4 1241.2 255.9 1254.2 259.7 1267.2 264.8 1280.2 271.3 1293.2 279 1306.2 288.1 1319.2 298.6 1332.2 310.3 1345.2 323.3 1358.2 337.7 1371.2 353.5 1384.2 370.2 1396.9 370.2 1653.2 109.2 1653.2Z"/><path fill="#d7e7f2" d="M109.2 1189.2L237.4 1189.2 234.3 1203.2 232.8 1217.2 232.7 1230.2 234.2 1244.2 236.9 1257.2 241.4 1271.2 247.5 1285.2 255 1299.2 264.1 1313.2 274.8 1327.2 286.9 1341.2 300.6 1355.2 315.7 1369.2 332.4 1383.2 350.7 1397.2 370.2 1410.9 370.2 1653.2 109.2 1653.2Z"/><path fill="#d2e4f0" d="M109.2 1189.2L217.8 1189.2 214.4 1204.2 212.9 1218.2 213 1232.2 214.9 1247.2 218.2 1261.2 223.6 1276.2 230.7 1291.2 239.6 1306.2 249.5 1320.2 261.8 1335.2 275.8 1350.2 291.5 1365.2 309 1380.2 328.2 1395.2 348.2 1409.5 370.2 1424 370.2 1653.2 109.2 1653.2Z"/><path fill="#cde1ef" d="M109.2 1189.2L197.9 1189.2 194.3 1205.2 192.8 1220.2 193.2 1235.2 195.4 1250.2 199.4 1265.2 205.3 1280.2 212.9 1295.2 223.1 1311.2 234.4 1326.2 248.3 1342.2 264.2 1358.2 282.1 1374.2 301.9 1390.2 322.3 1405.2 345.9 1421.2 370.2 1436.3 370.2 1653.2 109.2 1653.2Z"/><path fill="#c8deed" d="M109.2 1189.2L177.7 1189.2 174 1205.2 172.5 1221.2 173 1237.2 175.7 1253.2 180.5 1269.2 187.4 1285.2 196.3 1301.2 207.3 1317.2 220.2 1333.2 236.1 1350.2 253.1 1366.2 273.2 1383.2 295.5 1400.2 318.5 1416.2 343.5 1432.2 370.2 1448 370.2 1653.2 109.2 1653.2Z"/><path fill="#c2dbeb" d="M109.2 1189.2L157.3 1189.2 154.7 1199.2 153 1208.2 152 1218.2 151.8 1227.2 152.3 1236.2 153.6 1246.2 155.8 1256.2 158.9 1266.2 166.9 1285.2 178.5 1305.2 192.5 1324.2 210.2 1344.2 224.4 1358.2 241.2 1373.2 259.7 1388.2 278.5 1402.2 300.2 1417.2 322 1431.2 345.4 1445.2 370.2 1459.1 370.2 1653.2 109.2 1653.2Z"/><path fill="#bdd7ea" d="M109.2 1189.2L136.4 1189.2 133.8 1199.2 132.1 1208.2 130.8 1226.2 132.3 1244.2 134.1 1253.2 136.9 1263.2 144.1 1281.2 154.6 1300.2 168 1319.2 184.2 1338.2 200 1354.2 218.8 1371.2 239.8 1388.2 261.4 1404.2 286.5 1421.2 312 1437.2 339.6 1453.2 370.2 1469.7 370.2 1653.2 109.2 1653.2Z"/><path fill="#b8d4e8" d="M109.2 1189.2L115.2 1189.2 112.4 1199.2 110.7 1208.2 109.6 1217.2 109.3 1226.2 109.7 1235.2 111 1245.2 112.9 1254.2 115.8 1264.2 122.8 1281.2 132.2 1298.2 144 1315.2 158.1 1332.2 175.4 1350.2 196.2 1369.2 219.7 1388.2 245.7 1407.2 274.4 1426.2 304 1444.2 336 1462.2 370.2 1479.9 370.2 1653.2 109.2 1653.2Z"/><path fill="#b3d1e6" d="M109.2 1295.8L117.5 1308.2 126.7 1320.2 137 1332.2 148.4 1344.2 161 1356.2 174.5 1368.2 206.1 1393.2 242 1418.2 280.7 1442.2 323.6 1466.2 370.2 1489.8 370.2 1653.2 109.2 1653.2Z"/><path fill="#adcee5" d="M109.2 1325.2L129.2 1346.2 153.7 1368.2 181.6 1390.2 214.3 1413.2 249 1435.2 287.1 1457.2 326.8 1478.2 370.2 1499.3 370.2 1653.2 109.2 1653.2Z"/><path fill="#a8cbe3" d="M109.2 1347.7L132.5 1368.2 158.2 1388.2 186.5 1408.2 219.1 1429.2 254.6 1450.2 291.3 1470.2 330.2 1489.8 370.2 1508.5 370.2 1653.2 109.2 1653.2Z"/><path fill="#a3c8e1" d="M109.2 1366.8L134.3 1386.2 161.3 1405.2 192.3 1425.2 224.1 1444.2 258.2 1463.2 294.8 1482.2 332 1500.2 370.2 1517.4 370.2 1653.2 109.2 1653.2Z"/><path fill="#9dc4df" d="M109.2 1383.6L135.8 1402.2 163.6 1420.2 195.1 1439.2 227 1457.2 261.1 1475.2 297.3 1493.2 333.8 1510.2 370.2 1526.1 370.2 1653.2 109.2 1653.2Z"/><path fill="#98c1de" d="M109.2 1398.9L136.1 1416.2 165.9 1434.2 197.6 1452.2 229.4 1469.2 263 1486.2 298.5 1503.2 334 1519.2 370.2 1534.6 370.2 1653.2 109.2 1653.2Z"/><path fill="#93bedc" d="M109.2 1412.9L138 1430.2 167.9 1447.2 199.5 1464.2 232.8 1481.2 265.8 1497.2 300.5 1513.2 334.8 1528.2 370.2 1542.9 370.2 1653.2 109.2 1653.2Z"/><path fill="#8ebbda" d="M109.5 1426.2L169.4 1459.2 235.2 1492.2 303.2 1523.2 370.2 1550.9 370.2 1653.2 109.2 1653.2Z"/><path fill="#88b8d9" d="M109.2 1438.3L171.9 1471.2 236.3 1502.2 303.2 1531.8 370.2 1558.8 370.2 1653.2 109.2 1653.2Z"/><path fill="#83b5d7" d="M109.2 1450L173.5 1482.2 238.2 1512.2 303.4 1540.2 370.2 1566.5 370.2 1653.2 109.2 1653.2Z"/><path fill="#7eb1d5" d="M109.3 1461.2L176 1493.2 240.7 1522.2 305.5 1549.2 370.2 1574.1 370.2 1653.2 109.2 1653.2Z"/><path fill="#79aed3" d="M109.2 1471.8L177.3 1503.2 241.7 1531.2 305.7 1557.2 370.2 1581.5 370.2 1653.2 109.2 1653.2Z"/><path fill="#73abd2" d="M109.2 1482L176.9 1512.2 243.2 1540.2 306.3 1565.2 370.2 1588.8 370.2 1653.2 109.2 1653.2Z"/><path fill="#6ea8d0" d="M109.2 1491.8L179.6 1522.2 245.4 1549.2 309.2 1573.9 370.2 1595.9 370.2 1653.2 109.2 1653.2Z"/><path fill="#69a5ce" d="M109.2 1501.3L183 1532.2 248.1 1558.2 310.2 1581.7 370.2 1602.9 370.2 1653.2 109.2 1653.2Z"/><path fill="#64a2cd" d="M109.2 1510.5L182.1 1540.2 248.7 1566.2 310.9 1589.2 370.2 1609.8 370.2 1653.2 109.2 1653.2Z"/><path fill="#5e9ecb" d="M109.2 1519.4L184.3 1549.2 249.8 1574.2 310.5 1596.2 370.2 1616.6 370.2 1653.2 109.2 1653.2Z"/><path fill="#599bc9" d="M109.4 1528.2L187 1558.2 251.4 1582.2 313.3 1604.2 370.2 1623.3 370.2 1653.2 109.2 1653.2Z"/><path fill="#5498c7" d="M109.2 1536.6L187.7 1566.2 253.5 1590.2 313.7 1611.2 370.2 1629.9 370.2 1653.2 109.2 1653.2Z"/><path fill="#4e95c6" d="M109.2 1544.8L188.8 1574.2 253.1 1597.2 314.4 1618.2 370.2 1636.3 370.2 1653.2 109.2 1653.2Z"/><path fill="#4992c4" d="M109.2 1552.9L190.4 1582.2 256 1605.2 315.4 1625.2 370.2 1642.7 370.2 1653.2 109.2 1653.2Z"/><path fill="#448fc2" d="M109.2 1560.7L256.4 1612.2 315.2 1631.7 370.2 1649 370.2 1653.2 109.2 1653.2Z"/><path fill="#3f8bc1" d="M109.2 1568.4L254.1 1618.2 311.2 1636.9 363.5 1653.2 109.2 1653.2Z"/><path fill="#3988bf" d="M109.2 1575.9L243 1621.2 343.2 1653.2 109.2 1653.2Z"/><path fill="#3485bd" d="M109.2 1583.3L234.9 1625.2 323 1653.2 109.2 1653.2Z"/><path fill="#2f82bc" d="M109.2 1590.6L223.9 1628.2 302.8 1653.2 109.2 1653.2Z"/><path fill="#2a7fba" d="M109.2 1597.7L212.9 1631.2 282.7 1653.2 109.2 1653.2Z"/><path fill="#247cb8" d="M109.2 1604.7L205.1 1635.2 262.6 1653.2 109.2 1653.2Z"/><path fill="#1f78b6" d="M109.2 1611.6L194.1 1638.2 242.5 1653.2 109.2 1653.2Z"/><path fill="#1a75b5" d="M109.2 1618.3L186.5 1642.2 222.2 1653.2 109.2 1653.2Z"/><path fill="#1472b3" d="M109.2 1625L131.2 1631.7 201.9 1653.2 109.2 1653.2Z"/><path fill="#0f6fb1" d="M109.2 1631.5L136.2 1639.6 181.3 1653.2 109.2 1653.2Z"/><path fill="#0a6cb0" d="M109.2 1638L132.2 1644.8 160.6 1653.2 109.2 1653.2Z"/><path fill="#0569ae" d="M109.2 1644.3L124.2 1648.7 139.5 1653.2 109.2 1653.2Z"/><path fill="none" stroke="#333333" stroke-width="1.55" mask="url(#m8)" d="M251.5 1189.2L248.5 1203.2 247 1216.2 246.9 1229.2 248.1 1242.2 250.7 1255.2 254.6 1268.2 259.8 1281.2 266.9 1295.2 274.9 1308.2 284.2 1321.2 295.7 1335.2 307.7 1348.2 322.2 1362.2 336.9 1375.2 353.1 1388.2 370.2 1400.9M130.2 1189.2L127.7 1198.2 126.1 1206.2 125 1215.2 124.5 1223.2 124.6 1231.2 125.4 1240.2 126.7 1248.2 128.8 1257.2 131.3 1265.2 134.7 1274.2 138.8 1283.2 143.6 1292.2 154.4 1309.2 161.1 1318.2 168.4 1327.2 184.8 1345.2 203.7 1363.2 225 1381.2 250 1400.2 277.6 1419.2 306.2 1437.2 337.3 1455.2 370.2 1472.8M109.2 1388.5L136.6 1407.2 165.2 1425.2 195.7 1443.2 228.1 1461.2 262.7 1479.2 297.4 1496.2 334.2 1513.2 370.2 1528.8M109.2 1464.7L175.7 1496.2 241.1 1525.2 306.4 1552.2 370.2 1576.5M109.2 1522.5L184.8 1552.2 251 1577.2 312.1 1599.2 370.2 1618.9M109.2 1571.2L249.8 1619.2 304.9 1637.2 356.1 1653.2M109.2 1614.1L234.8 1653.2"/></g>
<text class="l" transform="translate(249.3 1232.8) scale(0.95 1)" text-anchor="middle" font-size="25">0.26</text>
<text class="l" transform="translate(128 1239.5) scale(0.95 1)" text-anchor="middle" font-size="25">0.29</text>
<text class="l" transform="translate(315.8 1509.6) scale(0.95 1)" text-anchor="middle" font-size="25">0.32</text>
<text class="l" transform="translate(284.6 1544.9) scale(0.95 1)" text-anchor="middle" font-size="25">0.35</text>
<text class="l" transform="translate(240.6 1578.8) scale(0.95 1)" text-anchor="middle" font-size="25">0.38</text>
<text class="l" transform="translate(195.5 1606) scale(0.95 1)" text-anchor="middle" font-size="25">0.40</text>
<text class="l" transform="translate(142.1 1634.5) scale(0.95 1)" text-anchor="middle" font-size="25">0.43</text>
<rect x="111.2" y="1191.2" width="257.6" height="460" fill="none" stroke="#000" stroke-width="2"/>
<path stroke="#000" stroke-width="2" fill="none" d="M111.2 1651.2H102.2M111.2 1593.7H106.7M111.2 1536.2H102.2M111.2 1478.7H106.7M111.2 1421.2H102.2M111.2 1363.7H106.7M111.2 1306.2H102.2M111.2 1248.7H106.7M111.2 1191.2H102.2M111.2 1651.2V1660.2M154.1 1651.2V1655.7M197.1 1651.2V1660.2M240 1651.2V1655.7M282.9 1651.2V1660.2M325.9 1651.2V1655.7M368.8 1651.2V1660.2"/>
<text transform="translate(96 1660) scale(0.95 1)" text-anchor="end" font-size="30">180</text>
<text transform="translate(96 1545) scale(0.95 1)" text-anchor="end" font-size="30">200</text>
<text transform="translate(96 1430) scale(0.95 1)" text-anchor="end" font-size="30">220</text>
<text transform="translate(96 1315) scale(0.95 1)" text-anchor="end" font-size="30">240</text>
<text transform="translate(96 1200) scale(0.95 1)" text-anchor="end" font-size="30">260</text>
<text transform="translate(111.2 1689.2) scale(0.95 1)" text-anchor="middle" font-size="30">2</text>
<text transform="translate(197.1 1689.2) scale(0.95 1)" text-anchor="middle" font-size="30">4</text>
<text transform="translate(282.9 1689.2) scale(0.95 1)" text-anchor="middle" font-size="30">6</text>
<text transform="translate(368.8 1689.2) scale(0.95 1)" text-anchor="middle" font-size="30">8</text>
<clipPath id="c9"><rect x="474" y="1191.2" width="258.3" height="460"/></clipPath>
<mask id="m9" maskUnits="userSpaceOnUse" x="469" y="1186.2" width="268.3" height="470"><rect x="0" y="0" width="1480" height="1750" fill="#fff"/><rect x="488.3" y="1582" width="29.8" height="28" fill="#000"/><rect x="528.2" y="1533.7" width="29.8" height="28" fill="#000"/><rect x="561.6" y="1469.1" width="29.8" height="28" fill="#000"/><rect x="592" y="1412.9" width="29.8" height="28" fill="#000"/><rect x="613.1" y="1349.1" width="29.8" height="28" fill="#000"/><rect x="633.5" y="1277.2" width="29.8" height="28" fill="#000"/><rect x="652.2" y="1207.5" width="29.8" height="28" fill="#000"/></mask>
<g clip-path="url(#c9)"><rect x="474" y="1191.2" width="258.3" height="460" fill="#fcfdfe"/><path fill="#f7fafc" d="M472 1189.2L734 1189.2 734 1653.2 495.6 1653.2 472 1636.8Z"/><path fill="#f2f7fb" d="M472 1189.2L734 1189.2 734 1653.2 514.1 1653.2 472 1623.7Z"/><path fill="#edf4f9" d="M472 1189.2L734 1189.2 734 1653.2 532.6 1653.2 472 1610.6Z"/><path fill="#e7f1f7" d="M472 1189.2L734 1189.2 734 1653.2 550.9 1653.2 472 1597.5Z"/><path fill="#e2eef6" d="M472 1189.2L734 1189.2 734 1653.2 569.2 1653.2 512 1612.2 472 1584.3Z"/><path fill="#ddeaf4" d="M472 1189.2L734 1189.2 734 1653.2 587.5 1653.2 517 1602.5 472 1571Z"/><path fill="#d7e7f2" d="M472 1189.2L734 1189.2 734 1653.2 605.8 1653.2 520 1591.3 472 1557.7Z"/><path fill="#d2e4f0" d="M472 1189.2L734 1189.2 734 1653.2 624.3 1653.2 521 1578.7 472 1544.4Z"/><path fill="#cde1ef" d="M472 1189.2L734 1189.2 734 1653.2 642.9 1653.2 522 1566.1 472 1531.1Z"/><path fill="#c8deed" d="M472 1189.2L734 1189.2 734 1653.2 661.8 1653.2 619.5 1623.2 521 1552 472 1517.7Z"/><path fill="#c2dbeb" d="M472 1189.2L734 1189.2 734 1653.2 680.9 1653.2 630 1617.4 518 1536.4 472 1504.3Z"/><path fill="#bdd7ea" d="M472 1189.2L734 1189.2 734 1653.2 700.4 1653.2 647 1616.2 526 1528.6 472 1490.9Z"/><path fill="#b8d4e8" d="M472 1189.2L734 1189.2 734 1653.2 720.4 1653.2 702 1641.1 650 1605 527 1515.8 472 1477.4Z"/><path fill="#b3d1e6" d="M472 1189.2L734 1189.2 734 1648.9 700 1626.5 663 1600.9 528 1503 472 1463.9Z"/><path fill="#adcee5" d="M472 1189.2L734 1189.2 734 1635.7 701 1613.8 665.5 1589.2 529 1490.2 472 1450.4Z"/><path fill="#a8cbe3" d="M472 1189.2L734 1189.2 734 1622.5 702 1601.2 667.5 1577.2 531 1478 472 1436.9Z"/><path fill="#a3c8e1" d="M472 1189.2L734 1189.2 734 1609.2 703 1588.5 670 1565.5 532 1465.2 472 1423.4Z"/><path fill="#9dc4df" d="M472 1189.2L734 1189.2 734 1595.9 704 1575.8 672 1553.5 534 1453 472 1409.8Z"/><path fill="#98c1de" d="M472 1189.2L734 1189.2 734 1582.6 674 1541.4 535 1440.1 472 1396.3Z"/><path fill="#93bedc" d="M472 1189.2L734 1189.2 734 1569.2 677 1530 537 1427.9 503 1403.8 472 1382.7Z"/><path fill="#8ebbda" d="M472 1189.2L734 1189.2 734 1555.9 703 1534.8 669 1510.7 529 1408.5 472 1369.2Z"/><path fill="#88b8d9" d="M472 1189.2L734 1189.2 734 1542.4 670 1497.8 531 1396.3 472 1355.6Z"/><path fill="#83b5d7" d="M472 1189.2L734 1189.2 734 1529 672 1485.7 533.3 1384.2 501 1361.6 472 1342.1Z"/><path fill="#7eb1d5" d="M472 1189.2L734 1189.2 734 1515.5 673 1472.8 536 1372.5 502.8 1349.2 472 1328.5Z"/><path fill="#79aed3" d="M472 1189.2L734 1189.2 734 1502.1 675 1460.6 538 1360.3 503 1335.7 472 1315Z"/><path fill="#73abd2" d="M472 1189.2L734 1189.2 734 1488.6 676 1447.7 540 1348 504 1322.8 472 1301.5Z"/><path fill="#6ea8d0" d="M472 1189.2L734 1189.2 734 1475.1 678 1435.5 542 1335.8 505 1309.9 472 1288Z"/><path fill="#69a5ce" d="M472 1189.2L734 1189.2 734 1461.5 679 1422.6 544 1323.6 506 1297 472 1274.5Z"/><path fill="#64a2cd" d="M472 1189.2L734 1189.2 734 1448 681 1410.4 546 1311.3 507 1284.1 472 1261Z"/><path fill="#5e9ecb" d="M472 1189.2L734 1189.2 734 1434.5 682 1397.5 548 1299.1 508 1271.2 472 1247.5Z"/><path fill="#599bc9" d="M472 1189.2L734 1189.2 734 1420.9 684 1385.3 550 1286.9 509 1258.4 472 1234.1Z"/><path fill="#5498c7" d="M472 1189.2L734 1189.2 734 1407.4 686 1373.1 552 1274.8 510 1245.6 472 1220.7Z"/><path fill="#4e95c6" d="M472 1189.2L734 1189.2 734 1393.8 688 1360.9 553 1261.9 510.2 1232.2 472 1207.3Z"/><path fill="#4992c4" d="M472 1189.2L734 1189.2 734 1380.3 690 1348.8 555 1249.8 511 1219.3 472 1194Z"/><path fill="#448fc2" d="M485.6 1189.2L734 1189.2 734 1366.8 690 1335.2 564 1242.6 527 1216.7Z"/><path fill="#3f8bc1" d="M506.1 1189.2L734 1189.2 734 1353.2 689.5 1321.2 578 1239.2 540 1212.2Z"/><path fill="#3988bf" d="M526.1 1189.2L734 1189.2 734 1339.7 691 1308.8 583 1229.3Z"/><path fill="#3485bd" d="M545.6 1189.2L734 1189.2 734 1326.2 691 1295.2 593 1223Z"/><path fill="#2f82bc" d="M564.7 1189.2L734 1189.2 734 1312.7Z"/><path fill="#2a7fba" d="M583.5 1189.2L734 1189.2 734 1299.3Z"/><path fill="#247cb8" d="M602 1189.2L734 1189.2 734 1285.9Z"/><path fill="#1f78b6" d="M620.4 1189.2L734 1189.2 734 1272.4Z"/><path fill="#1a75b5" d="M638.6 1189.2L734 1189.2 734 1259.1Z"/><path fill="#1472b3" d="M656.7 1189.2L734 1189.2 734 1245.7Z"/><path fill="#0f6fb1" d="M674.8 1189.2L734 1189.2 734 1232.4Z"/><path fill="#0a6cb0" d="M692.9 1189.2L734 1189.2 734 1219.1Z"/><path fill="#0569ae" d="M711 1189.2L734 1189.2 734 1205.8 723 1197.9Z"/><path fill="none" stroke="#333333" stroke-width="1.55" mask="url(#m9)" d="M587.3 1653.2L517 1602.6 472 1571.1M700.3 1653.2L647 1616.3 526 1528.7 472 1490.9M734 1596L704 1575.8 672 1553.5 534 1453 501 1429.7 472 1409.9M734 1515.5L705 1495.6 673 1472.8 536 1372.5 502.8 1349.2 472 1328.5M734 1434.4L682 1397.4 587 1327.4 548 1299.1 508 1271.2 472 1247.5M734 1353.2L690 1321.5 573 1235.5 538 1210.7 506.2 1189.2M734 1272.3L696 1244.8 620.5 1189.2"/></g>
<text class="l" transform="translate(503.2 1604.1) scale(0.95 1)" text-anchor="middle" font-size="25">33</text>
<text class="l" transform="translate(543.1 1555.8) scale(0.95 1)" text-anchor="middle" font-size="25">36</text>
<text class="l" transform="translate(576.5 1491.2) scale(0.95 1)" text-anchor="middle" font-size="25">39</text>
<text class="l" transform="translate(606.9 1435) scale(0.95 1)" text-anchor="middle" font-size="25">42</text>
<text class="l" transform="translate(628 1371.2) scale(0.95 1)" text-anchor="middle" font-size="25">45</text>
<text class="l" transform="translate(648.4 1299.3) scale(0.95 1)" text-anchor="middle" font-size="25">48</text>
<text class="l" transform="translate(667.1 1229.5) scale(0.95 1)" text-anchor="middle" font-size="25">51</text>
<rect x="474" y="1191.2" width="258.3" height="460" fill="none" stroke="#000" stroke-width="2"/>
<path stroke="#000" stroke-width="2" fill="none" d="M474 1651.2H465M474 1593.7H469.5M474 1536.2H465M474 1478.7H469.5M474 1421.2H465M474 1363.7H469.5M474 1306.2H465M474 1248.7H469.5M474 1191.2H465M474 1651.2V1660.2M517 1651.2V1655.7M560.1 1651.2V1660.2M603.1 1651.2V1655.7M646.2 1651.2V1660.2M689.2 1651.2V1655.7M732.3 1651.2V1660.2"/>
<text transform="translate(458.8 1660) scale(0.95 1)" text-anchor="end" font-size="30">180</text>
<text transform="translate(458.8 1545) scale(0.95 1)" text-anchor="end" font-size="30">200</text>
<text transform="translate(458.8 1430) scale(0.95 1)" text-anchor="end" font-size="30">220</text>
<text transform="translate(458.8 1315) scale(0.95 1)" text-anchor="end" font-size="30">240</text>
<text transform="translate(458.8 1200) scale(0.95 1)" text-anchor="end" font-size="30">260</text>
<text transform="translate(474 1689.2) scale(0.95 1)" text-anchor="middle" font-size="30">2</text>
<text transform="translate(560.1 1689.2) scale(0.95 1)" text-anchor="middle" font-size="30">4</text>
<text transform="translate(646.2 1689.2) scale(0.95 1)" text-anchor="middle" font-size="30">6</text>
<text transform="translate(732.3 1689.2) scale(0.95 1)" text-anchor="middle" font-size="30">8</text>
<clipPath id="c10"><rect x="837.6" y="1191.2" width="258.2" height="460"/></clipPath>
<mask id="m10" maskUnits="userSpaceOnUse" x="832.6" y="1186.2" width="268.2" height="470"><rect x="0" y="0" width="1480" height="1750" fill="#fff"/><rect x="960" y="1245.5" width="50.7" height="28" fill="#000"/><rect x="892.9" y="1339.6" width="50.7" height="28" fill="#000"/><rect x="1002.1" y="1479.4" width="50.7" height="28" fill="#000"/><rect x="983.3" y="1523.7" width="50.7" height="28" fill="#000"/><rect x="936.4" y="1553.5" width="50.7" height="28" fill="#000"/><rect x="895.1" y="1582.6" width="50.7" height="28" fill="#000"/><rect x="845.4" y="1615.1" width="50.7" height="28" fill="#000"/></mask>
<g clip-path="url(#c10)"><rect x="837.6" y="1191.2" width="258.2" height="460" fill="#fcfdfe"/><path fill="#f7fafc" d="M835.6 1189.2L1080.9 1189.2 1077 1203.2 1074.8 1217.2 1074.4 1231.2 1075.6 1245.2 1078.6 1259.2 1083.2 1273.2 1089.5 1287.2 1097.6 1301.4 1097.6 1653.2 835.6 1653.2Z"/><path fill="#f2f7fb" d="M835.6 1189.2L1059.8 1189.2 1055.4 1206.2 1053.6 1224.2 1054.3 1241.2 1057.8 1259.2 1064 1277.2 1072.3 1294.2 1083.8 1312.2 1097.6 1329.6 1097.6 1653.2 835.6 1653.2Z"/><path fill="#edf4f9" d="M835.6 1189.2L1039 1189.2 1036.3 1199.2 1034.4 1209.2 1033.3 1219.2 1033.1 1229.2 1033.7 1239.2 1035.1 1249.2 1037.6 1259.9 1040.8 1270.2 1045.3 1281.2 1050.1 1291.2 1055.9 1301.2 1062.4 1311.2 1078.1 1331.2 1097.6 1351.5 1097.6 1653.2 835.6 1653.2Z"/><path fill="#e7f1f7" d="M835.6 1189.2L1018.6 1189.2 1015.7 1200.2 1013.8 1211.2 1012.9 1222.2 1013.1 1234.2 1014.3 1245.2 1016.7 1257.2 1020 1268.2 1024.7 1280.2 1030.5 1292.2 1036.8 1303.2 1044.9 1315.2 1053.4 1326.2 1062.8 1337.2 1073.3 1348.2 1084.9 1359.2 1097.6 1370.2 1097.6 1653.2 835.6 1653.2Z"/><path fill="#e2eef6" d="M835.6 1189.2L998.4 1189.2 995.4 1201.2 993.5 1213.2 992.8 1225.2 993.4 1238.2 995.2 1250.2 998.4 1263.2 1002.6 1275.2 1008.4 1288.2 1015.6 1301.2 1023.4 1313.2 1033.2 1326.2 1043.5 1338.2 1055.9 1351.2 1068.7 1363.2 1082.8 1375.2 1097.6 1386.7 1097.6 1653.2 835.6 1653.2Z"/><path fill="#ddeaf4" d="M835.6 1189.2L978.3 1189.2 975.1 1202.2 973.3 1215.2 972.9 1228.2 974 1242.2 976.4 1255.2 980.5 1269.2 985.8 1282.2 992.9 1296.2 1001.5 1310.2 1010.9 1323.2 1022.6 1337.2 1034.8 1350.2 1048.4 1363.2 1063.5 1376.2 1080.2 1389.2 1097.6 1401.6 1097.6 1653.2 835.6 1653.2Z"/><path fill="#d7e7f2" d="M835.6 1189.2L958.3 1189.2 955 1203.2 953.2 1217.2 953.1 1231.2 954.8 1246.2 957.9 1260.2 962.6 1274.2 968.8 1288.2 977.2 1303.2 987.4 1318.2 998.4 1332.2 1012 1347.2 1026.2 1361.2 1042.1 1375.2 1059.7 1389.2 1077.7 1402.2 1097.6 1415.4 1097.6 1653.2 835.6 1653.2Z"/><path fill="#d2e4f0" d="M835.6 1189.2L938.2 1189.2 934.7 1204.2 933.1 1219.2 933.4 1234.2 935.4 1249.2 939.2 1264.2 944.9 1279.2 952.2 1294.2 961.4 1309.2 973 1325.2 985.7 1340.2 1000.2 1355.2 1016.4 1370.2 1034.5 1385.2 1054.4 1400.2 1075 1414.2 1097.6 1428.3 1097.6 1653.2 835.6 1653.2Z"/><path fill="#cde1ef" d="M835.6 1189.2L918.1 1189.2 914.6 1204.2 913 1220.2 913.4 1235.2 915.8 1251.2 920.3 1267.2 926.8 1283.2 935.3 1299.2 945.8 1315.2 959 1332.2 973.5 1348.2 990 1364.2 1008.4 1380.2 1028.9 1396.2 1050.1 1411.2 1073.4 1426.2 1097.6 1440.4 1097.6 1653.2 835.6 1653.2Z"/><path fill="#c8deed" d="M835.6 1189.2L897.7 1189.2 894.1 1205.2 892.6 1221.2 893.3 1237.2 896.3 1254.2 901.2 1270.2 908.7 1287.2 917.8 1303.2 929.6 1320.2 943.6 1337.2 959.8 1354.2 978.1 1371.2 998.7 1388.2 1021.5 1405.2 1045.3 1421.2 1071.3 1437.2 1097.6 1451.9 1097.6 1653.2 835.6 1653.2Z"/><path fill="#c2dbeb" d="M835.6 1189.2L877.1 1189.2 874.8 1198.2 873 1208.2 872.2 1217.2 872 1227.2 872.6 1236.2 874 1246.2 876.3 1256.2 879.4 1266.2 887.4 1285.2 899 1305.2 913.6 1325.2 931.2 1345.2 947.4 1361.2 964.3 1376.2 982.9 1391.2 1003.2 1406.2 1025.3 1421.2 1047.7 1435.2 1072 1449.2 1097.6 1462.8 1097.6 1653.2 835.6 1653.2Z"/><path fill="#bdd7ea" d="M835.6 1189.2L856.1 1189.2 852.1 1207.2 851.2 1216.2 851 1226.2 852.7 1244.2 854.6 1253.2 857.6 1263.2 865.4 1282.2 876 1301.2 889.5 1320.2 905.6 1339.2 922.3 1356.2 942.3 1374.2 964.6 1392.2 987.8 1409.2 1013.3 1426.2 1039.6 1442.2 1068.2 1458.2 1097.6 1473.3 1097.6 1653.2 835.6 1653.2Z"/><path fill="#b8d4e8" d="M835.6 1261.2L841 1275.2 848 1289.2 856.5 1303.2 866.6 1317.2 878.2 1331.2 891.1 1345.2 905.5 1359.2 922.5 1374.2 941 1389.2 959.7 1403.2 979.9 1417.2 1001.6 1431.2 1024.8 1445.2 1048 1458.2 1072.8 1471.2 1097.6 1483.3 1097.6 1653.2 835.6 1653.2Z"/><path fill="#b3d1e6" d="M835.6 1303.7L844.8 1316.2 854.8 1328.2 865.8 1340.2 877.8 1352.2 890.9 1364.2 906.1 1377.2 938.7 1402.2 974 1426.2 1013.7 1450.2 1054.5 1472.2 1097.6 1493 1097.6 1653.2 835.6 1653.2Z"/><path fill="#adcee5" d="M835.6 1330.6L858.1 1353.2 884.6 1376.2 914.7 1399.2 946.7 1421.2 982 1443.2 1019.3 1464.2 1058.4 1484.2 1097.6 1502.3 1097.6 1653.2 835.6 1653.2Z"/><path fill="#a8cbe3" d="M835.8 1352.2L860.3 1373.2 887.6 1394.2 917.8 1415.2 950.8 1436.2 985 1456.2 1022.4 1476.2 1059.2 1494.2 1097.6 1511.4 1097.6 1653.2 835.6 1653.2Z"/><path fill="#a3c8e1" d="M835.6 1370.4L862.9 1391.2 891.7 1411.2 922.8 1431.2 956.5 1451.2 991.2 1470.2 1026.6 1488.2 1062.6 1505.1 1097.6 1520.2 1097.6 1653.2 835.6 1653.2Z"/><path fill="#9dc4df" d="M835.6 1386.8L865.1 1407.2 894.7 1426.2 926.4 1445.2 960.3 1464.2 992.8 1481.2 1027.7 1498.2 1063 1514.2 1097.6 1528.7 1097.6 1653.2 835.6 1653.2Z"/><path fill="#98c1de" d="M835.6 1401.7L866.1 1421.2 897.7 1440.2 929.6 1458.2 963.4 1476.2 995.6 1492.3 1029.6 1508.3 1063.7 1523.2 1097.6 1537 1097.6 1653.2 835.6 1653.2Z"/><path fill="#93bedc" d="M835.6 1415.4L868.7 1435.2 900.5 1453.2 932.1 1470.2 965.5 1487.2 998.8 1503.2 1032 1518.2 1065 1532.2 1097.6 1545.1 1097.6 1653.2 835.6 1653.2Z"/><path fill="#8ebbda" d="M835.6 1428.3L869.1 1447.2 902.6 1465.2 935.7 1482.2 968.6 1498.2 1001 1513.2 1033 1527.2 1064.6 1540.3 1097.6 1553 1097.6 1653.2 835.6 1653.2Z"/><path fill="#88b8d9" d="M835.6 1440.4L903.8 1476.2 970.3 1508.2 1034.5 1536.2 1066.6 1549.1 1097.6 1560.7 1097.6 1653.2 835.6 1653.2Z"/><path fill="#83b5d7" d="M835.6 1451.9L906 1487.2 972.8 1518.2 1036.7 1545.2 1097.6 1568.3 1097.6 1653.2 835.6 1653.2Z"/><path fill="#7eb1d5" d="M835.6 1462.9L909 1498.2 973.7 1527.2 1036.9 1553.2 1097.6 1575.7 1097.6 1653.2 835.6 1653.2Z"/><path fill="#79aed3" d="M835.6 1473.4L910.8 1508.2 975.2 1536.2 1037.6 1561.2 1097.6 1582.9 1097.6 1653.2 835.6 1653.2Z"/><path fill="#73abd2" d="M835.6 1483.5L913.3 1518.2 977.3 1545.2 1038.8 1569.2 1097.6 1590.1 1097.6 1653.2 835.6 1653.2Z"/><path fill="#6ea8d0" d="M835.6 1493.2L914.1 1527.2 980 1554.2 1040.4 1577.2 1097.6 1597.1 1097.6 1653.2 835.6 1653.2Z"/><path fill="#69a5ce" d="M835.6 1502.6L918.1 1537.2 980.7 1562.2 1040.6 1584.5 1097.6 1603.9 1097.6 1653.2 835.6 1653.2Z"/><path fill="#64a2cd" d="M835.6 1511.8L917.7 1545.2 981.9 1570.2 1042.3 1592.2 1097.6 1610.7 1097.6 1653.2 835.6 1653.2Z"/><path fill="#5e9ecb" d="M835.6 1520.6L920.4 1554.2 983.6 1578.2 1042.5 1599.2 1097.6 1617.3 1097.6 1653.2 835.6 1653.2Z"/><path fill="#599bc9" d="M835.6 1529.2L923.7 1563.2 985.7 1586.2 1042.9 1606.2 1097.6 1623.8 1097.6 1653.2 835.6 1653.2Z"/><path fill="#5498c7" d="M835.6 1537.6L927.6 1572.2 988.3 1594.2 1044.6 1613.5 1097.6 1630.3 1097.6 1653.2 835.6 1653.2Z"/><path fill="#4e95c6" d="M835.6 1545.7L929.4 1580.2 988.5 1601.2 1045 1620.2 1097.6 1636.6 1097.6 1653.2 835.6 1653.2Z"/><path fill="#4992c4" d="M835.6 1553.7L931.6 1588.2 989 1608.2 1045.6 1626.9 1097.6 1642.8 1097.6 1653.2 835.6 1653.2Z"/><path fill="#448fc2" d="M835.6 1561.5L990.6 1615.4 1045.6 1633.3 1097.6 1649 1097.6 1653.2 835.6 1653.2Z"/><path fill="#3f8bc1" d="M835.8 1569.2L988.1 1621.2 1041.1 1638.2 1091.1 1653.2 835.6 1653.2Z"/><path fill="#3988bf" d="M835.6 1576.6L980.4 1625.2 1070.3 1653.2 835.6 1653.2Z"/><path fill="#3485bd" d="M835.6 1583.9L969.7 1628.2 1049.8 1653.2 835.6 1653.2Z"/><path fill="#2f82bc" d="M835.9 1591.2L959.1 1631.2 1029.6 1653.2 835.6 1653.2Z"/><path fill="#2a7fba" d="M835.7 1598.2L951.6 1635.2 1009.5 1653.2 835.6 1653.2Z"/><path fill="#247cb8" d="M835.9 1605.2L944.2 1639.2 989.5 1653.2 835.6 1653.2Z"/><path fill="#1f78b6" d="M835.6 1611.9L864.6 1620.8 969.5 1653.2 835.6 1653.2Z"/><path fill="#1a75b5" d="M835.6 1618.6L869.6 1628.9 949.4 1653.2 835.6 1653.2Z"/><path fill="#1472b3" d="M835.6 1625.2L870.6 1635.6 929.2 1653.2 835.6 1653.2Z"/><path fill="#0f6fb1" d="M835.6 1631.7L866.6 1640.7 908.7 1653.2 835.6 1653.2Z"/><path fill="#0a6cb0" d="M835.9 1638.2L858.6 1644.7 887.9 1653.2 835.6 1653.2Z"/><path fill="#0569ae" d="M835.6 1644.4L850.6 1648.6 866.7 1653.2 835.6 1653.2Z"/><path fill="none" stroke="#333333" stroke-width="1.55" mask="url(#m10)" d="M982.8 1189.2L979.6 1202.2 977.8 1215.2 977.4 1228.2 978.3 1241.2 980.6 1254.2 984.3 1267.2 989.3 1280.2 996.2 1294.2 1004.6 1308.2 1013.8 1321.2 1024.4 1334.2 1036.3 1347.2 1049.7 1360.2 1064.5 1373.2 1080.8 1386.2 1097.6 1398.4M858.6 1189.2L856.2 1198.2 854.8 1206.2 853.8 1214.2 853.4 1223.2 853.7 1231.2 854.6 1240.2 856.2 1249.2 858.5 1258.2 861.1 1266.2 864.6 1275.2 868.8 1284.2 873.6 1293.2 879.1 1302.2 885.2 1311.2 899.2 1329.2 915.6 1347.2 935.5 1366.2 957.9 1385.2 981.7 1403.2 1007.9 1421.2 1036.8 1439.2 1066.8 1456.2 1097.6 1472M835.6 1386.6L863.9 1406.2 893.3 1425.2 924.9 1444.2 958.7 1463.2 993.1 1481.2 1027.9 1498.2 1063.2 1514.2 1097.6 1528.6M835.6 1463.9L907.1 1498.2 942.2 1514.2 974.2 1528.2 1005.6 1541.4 1037.6 1554.2 1067.6 1565.6 1097.6 1576.4M835.6 1522.3L921.6 1556.2 985.1 1580.2 1043.6 1601 1097.6 1618.6M835.6 1571.4L985.1 1622.2 1037.6 1639 1084.7 1653.2M835.6 1614.7L961.3 1653.2"/></g>
<text class="l" transform="translate(985.3 1267.5) scale(0.95 1)" text-anchor="middle" font-size="25">0.24</text>
<text class="l" transform="translate(918.3 1361.7) scale(0.95 1)" text-anchor="middle" font-size="25">0.27</text>
<text class="l" transform="translate(1027.4 1501.5) scale(0.95 1)" text-anchor="middle" font-size="25">0.30</text>
<text class="l" transform="translate(1008.7 1545.7) scale(0.95 1)" text-anchor="middle" font-size="25">0.33</text>
<text class="l" transform="translate(961.7 1575.6) scale(0.95 1)" text-anchor="middle" font-size="25">0.36</text>
<text class="l" transform="translate(920.5 1604.6) scale(0.95 1)" text-anchor="middle" font-size="25">0.38</text>
<text class="l" transform="translate(870.8 1637.2) scale(0.95 1)" text-anchor="middle" font-size="25">0.41</text>
<rect x="837.6" y="1191.2" width="258.2" height="460" fill="none" stroke="#000" stroke-width="2"/>
<path stroke="#000" stroke-width="2" fill="none" d="M837.6 1651.2H828.6M837.6 1593.7H833.1M837.6 1536.2H828.6M837.6 1478.7H833.1M837.6 1421.2H828.6M837.6 1363.7H833.1M837.6 1306.2H828.6M837.6 1248.7H833.1M837.6 1191.2H828.6M837.6 1651.2V1660.2M880.6 1651.2V1655.7M923.7 1651.2V1660.2M966.7 1651.2V1655.7M1009.7 1651.2V1660.2M1052.8 1651.2V1655.7M1095.8 1651.2V1660.2"/>
<text transform="translate(822.4 1660) scale(0.95 1)" text-anchor="end" font-size="30">180</text>
<text transform="translate(822.4 1545) scale(0.95 1)" text-anchor="end" font-size="30">200</text>
<text transform="translate(822.4 1430) scale(0.95 1)" text-anchor="end" font-size="30">220</text>
<text transform="translate(822.4 1315) scale(0.95 1)" text-anchor="end" font-size="30">240</text>
<text transform="translate(822.4 1200) scale(0.95 1)" text-anchor="end" font-size="30">260</text>
<text transform="translate(837.6 1689.2) scale(0.95 1)" text-anchor="middle" font-size="30">2</text>
<text transform="translate(923.7 1689.2) scale(0.95 1)" text-anchor="middle" font-size="30">4</text>
<text transform="translate(1009.7 1689.2) scale(0.95 1)" text-anchor="middle" font-size="30">6</text>
<text transform="translate(1095.8 1689.2) scale(0.95 1)" text-anchor="middle" font-size="30">8</text>
<clipPath id="c11"><rect x="1200.2" y="1191.2" width="257.9" height="460"/></clipPath>
<mask id="m11" maskUnits="userSpaceOnUse" x="1195.2" y="1186.2" width="267.9" height="470"><rect x="0" y="0" width="1480" height="1750" fill="#fff"/><rect x="1218.9" y="1588" width="29.8" height="28" fill="#000"/><rect x="1263.7" y="1538.3" width="29.8" height="28" fill="#000"/><rect x="1300.3" y="1490.8" width="29.8" height="28" fill="#000"/><rect x="1351.1" y="1355.9" width="29.8" height="28" fill="#000"/><rect x="1370.9" y="1286.2" width="29.8" height="28" fill="#000"/><rect x="1380.9" y="1216.1" width="29.8" height="28" fill="#000"/></mask>
<g clip-path="url(#c11)"><rect x="1200.2" y="1191.2" width="257.9" height="460" fill="#fcfdfe"/><path fill="#f7fafc" d="M1198.2 1189.2L1459.2 1189.2 1459.2 1653.2 1222.2 1653.2 1198.2 1636.4Z"/><path fill="#f2f7fb" d="M1198.2 1189.2L1459.2 1189.2 1459.2 1653.2 1241.3 1653.2 1198.2 1622.9Z"/><path fill="#edf4f9" d="M1198.2 1189.2L1459.2 1189.2 1459.2 1653.2 1260.3 1653.2 1198.2 1609.4Z"/><path fill="#e7f1f7" d="M1198.2 1189.2L1459.2 1189.2 1459.2 1653.2 1279.3 1653.2 1198.2 1595.9Z"/><path fill="#e2eef6" d="M1198.2 1189.2L1459.2 1189.2 1459.2 1653.2 1298.2 1653.2 1246.2 1615.9 1198.2 1582.4Z"/><path fill="#ddeaf4" d="M1198.2 1189.2L1459.2 1189.2 1459.2 1653.2 1317 1653.2 1254.5 1608.2 1198.2 1568.9Z"/><path fill="#d7e7f2" d="M1198.2 1189.2L1459.2 1189.2 1459.2 1653.2 1335.8 1653.2 1263.2 1600.7 1198.2 1555.3Z"/><path fill="#d2e4f0" d="M1198.2 1189.2L1459.2 1189.2 1459.2 1653.2 1354.5 1653.2 1271.2 1592.8 1198.2 1541.8Z"/><path fill="#cde1ef" d="M1198.2 1189.2L1459.2 1189.2 1459.2 1653.2 1373.2 1653.2 1278.2 1584.1 1198.2 1528.2Z"/><path fill="#c8deed" d="M1198.2 1189.2L1459.2 1189.2 1459.2 1653.2 1391.9 1653.2 1286.2 1576.1 1198.2 1514.7Z"/><path fill="#c2dbeb" d="M1198.2 1189.2L1459.2 1189.2 1459.2 1653.2 1410.5 1653.2 1292.8 1567.2 1244.2 1532.8 1198.2 1501.1Z"/><path fill="#bdd7ea" d="M1198.2 1189.2L1459.2 1189.2 1459.2 1653.2 1429.2 1653.2 1299.2 1558.1 1247.1 1521.2 1198.2 1487.6Z"/><path fill="#b8d4e8" d="M1198.2 1189.2L1459.2 1189.2 1459.2 1653.2 1447.8 1653.2 1305.2 1548.7 1249.2 1509 1198.2 1474Z"/><path fill="#b3d1e6" d="M1198.2 1189.2L1459.2 1189.2 1459.2 1647.8 1373.1 1584.2 1309.2 1537.8 1251.2 1496.7 1198.2 1460.4Z"/><path fill="#adcee5" d="M1198.2 1189.2L1459.2 1189.2 1459.2 1634 1373.2 1570.5 1309.2 1524.1 1251.2 1483.1 1198.2 1446.9Z"/><path fill="#a8cbe3" d="M1198.2 1189.2L1459.2 1189.2 1459.2 1620.2 1373.2 1556.8 1309.2 1510.4 1251.2 1469.5 1198.2 1433.3Z"/><path fill="#a3c8e1" d="M1198.2 1189.2L1459.2 1189.2 1459.2 1606.5 1374.2 1543.8 1310.2 1497.4 1252.2 1456.5 1198.2 1419.7Z"/><path fill="#9dc4df" d="M1198.2 1189.2L1459.2 1189.2 1459.2 1592.7 1374.2 1530.1 1310.2 1483.8 1252.2 1442.9 1198.2 1406.2Z"/><path fill="#98c1de" d="M1198.2 1189.2L1459.2 1189.2 1459.2 1579 1374.2 1516.3 1310.2 1470.1 1252.2 1429.3 1198.2 1392.6Z"/><path fill="#93bedc" d="M1198.2 1189.2L1459.2 1189.2 1459.2 1565.2 1375.2 1503.4 1310.2 1456.4 1252.2 1415.7 1198.2 1379.1Z"/><path fill="#8ebbda" d="M1198.2 1189.2L1459.2 1189.2 1459.2 1551.5 1375.9 1490.2 1311.2 1443.5 1252.2 1402.1 1198.2 1365.5Z"/><path fill="#88b8d9" d="M1198.2 1189.2L1459.2 1189.2 1459.2 1537.8 1376.2 1476.8 1311.2 1429.9 1252.2 1388.5 1198.2 1352Z"/><path fill="#83b5d7" d="M1198.2 1189.2L1459.2 1189.2 1459.2 1524.2 1376.2 1463.1 1311.2 1416.2 1252.2 1374.9 1198.2 1338.5Z"/><path fill="#7eb1d5" d="M1198.2 1189.2L1459.2 1189.2 1459.2 1510.5 1376.2 1449.5 1311.2 1402.6 1252.2 1361.4 1198.2 1325Z"/><path fill="#79aed3" d="M1198.2 1189.2L1459.2 1189.2 1459.2 1496.9 1377.2 1436.6 1312.2 1389.8 1253.2 1348.5 1198.2 1311.5Z"/><path fill="#73abd2" d="M1198.2 1189.2L1459.2 1189.2 1459.2 1483.3 1377.2 1423 1312.2 1376.2 1253.2 1335 1198.2 1298Z"/><path fill="#6ea8d0" d="M1198.2 1189.2L1459.2 1189.2 1459.2 1469.8 1377.2 1409.4 1312.2 1362.6 1253.2 1321.5 1198.2 1284.5Z"/><path fill="#69a5ce" d="M1198.2 1189.2L1459.2 1189.2 1459.2 1456.2 1377.2 1395.9 1312.2 1349.1 1253.2 1308 1198.2 1271.1Z"/><path fill="#64a2cd" d="M1198.2 1189.2L1459.2 1189.2 1459.2 1442.7 1377.2 1382.4 1312.2 1335.6 1253.2 1294.5 1198.2 1257.6Z"/><path fill="#5e9ecb" d="M1198.2 1189.2L1459.2 1189.2 1459.2 1429.2 1378.2 1369.6 1312.3 1322.2 1253.2 1281 1198.2 1244.2Z"/><path fill="#599bc9" d="M1198.2 1189.2L1459.2 1189.2 1459.2 1415.8 1378.2 1356.2 1313.2 1309.4 1253.2 1267.6 1198.2 1230.8Z"/><path fill="#5498c7" d="M1198.2 1189.2L1459.2 1189.2 1459.2 1402.4 1378.2 1342.7 1313.2 1296 1253.2 1254.2 1198.2 1217.4Z"/><path fill="#4e95c6" d="M1198.2 1189.2L1459.2 1189.2 1459.2 1389 1379.2 1330 1313.2 1282.6 1253.2 1240.8 1198.2 1204.1Z"/><path fill="#4992c4" d="M1198.2 1189.2L1459.2 1189.2 1459.2 1375.6 1379.2 1316.7 1313.2 1269.2 1253.2 1227.4 1198.2 1190.7Z"/><path fill="#448fc2" d="M1216.2 1189.2L1459.2 1189.2 1459.2 1362.3 1385.2 1307.7 1324.2 1263.7 1269.2 1225.1Z"/><path fill="#3f8bc1" d="M1236.2 1189.2L1459.2 1189.2 1459.2 1349 1336.2 1258.9 1286.2 1223.6Z"/><path fill="#3988bf" d="M1255.6 1189.2L1459.2 1189.2 1459.2 1335.8 1352.3 1257.2 1302.2 1221.5Z"/><path fill="#3485bd" d="M1275.2 1189.2L1459.2 1189.2 1459.2 1322.6 1361.2 1250.4Z"/><path fill="#2f82bc" d="M1294.2 1189.2L1459.2 1189.2 1459.2 1309.4 1373.2 1245.9Z"/><path fill="#2a7fba" d="M1312.6 1189.2L1459.2 1189.2 1459.2 1296.3 1379.2 1237.1Z"/><path fill="#247cb8" d="M1331.2 1189.2L1459.2 1189.2 1459.2 1283.2 1391.2 1232.8Z"/><path fill="#1f78b6" d="M1349.4 1189.2L1459.2 1189.2 1459.2 1270.1Z"/><path fill="#1a75b5" d="M1367.4 1189.2L1459.2 1189.2 1459.2 1257.1Z"/><path fill="#1472b3" d="M1385.2 1189.2L1459.2 1189.2 1459.2 1244.2 1421.2 1215.8Z"/><path fill="#0f6fb1" d="M1402.8 1189.2L1459.2 1189.2 1459.2 1231.2Z"/><path fill="#0a6cb0" d="M1420.2 1189.2L1459.2 1189.2 1459.2 1218.3Z"/><path fill="#0569ae" d="M1437.5 1189.2L1459.2 1189.2 1459.2 1205.5Z"/><path fill="none" stroke="#333333" stroke-width="1.55" mask="url(#m11)" d="M1312.8 1653.2L1253 1610.2 1198.2 1571.9M1424.8 1653.2L1354.2 1601.2 1297.7 1560.2 1246.2 1523.8 1198.2 1490.8M1459.2 1596.1L1374.2 1533.5 1310.2 1487.1 1252.2 1446.3 1198.2 1409.5M1459.2 1514.1L1376.2 1453 1311.2 1406.2 1252.2 1364.9 1198.2 1328.5M1459.2 1432.9L1378.2 1373.3 1312.8 1326.2 1253.2 1284.7 1198.2 1247.8M1459.2 1352.8L1390.2 1301.8 1332.2 1259.8 1279.2 1222.5 1230.5 1189.2M1459.2 1274L1397.2 1228 1344 1189.2"/></g>
<text class="l" transform="translate(1233.8 1610) scale(0.95 1)" text-anchor="middle" font-size="25">28</text>
<text class="l" transform="translate(1278.6 1560.4) scale(0.95 1)" text-anchor="middle" font-size="25">31</text>
<text class="l" transform="translate(1315.2 1512.9) scale(0.95 1)" text-anchor="middle" font-size="25">34</text>
<text class="l" transform="translate(1366 1378) scale(0.95 1)" text-anchor="middle" font-size="25">40</text>
<text class="l" transform="translate(1385.8 1308.2) scale(0.95 1)" text-anchor="middle" font-size="25">43</text>
<text class="l" transform="translate(1395.8 1238.2) scale(0.95 1)" text-anchor="middle" font-size="25">46</text>
<rect x="1200.2" y="1191.2" width="257.9" height="460" fill="none" stroke="#000" stroke-width="2"/>
<path stroke="#000" stroke-width="2" fill="none" d="M1200.2 1651.2H1191.2M1200.2 1593.7H1195.7M1200.2 1536.2H1191.2M1200.2 1478.7H1195.7M1200.2 1421.2H1191.2M1200.2 1363.7H1195.7M1200.2 1306.2H1191.2M1200.2 1248.7H1195.7M1200.2 1191.2H1191.2M1200.2 1651.2V1660.2M1243.2 1651.2V1655.7M1286.2 1651.2V1660.2M1329.2 1651.2V1655.7M1372.1 1651.2V1660.2M1415.1 1651.2V1655.7M1458.1 1651.2V1660.2"/>
<text transform="translate(1185 1660) scale(0.95 1)" text-anchor="end" font-size="30">180</text>
<text transform="translate(1185 1545) scale(0.95 1)" text-anchor="end" font-size="30">200</text>
<text transform="translate(1185 1430) scale(0.95 1)" text-anchor="end" font-size="30">220</text>
<text transform="translate(1185 1315) scale(0.95 1)" text-anchor="end" font-size="30">240</text>
<text transform="translate(1185 1200) scale(0.95 1)" text-anchor="end" font-size="30">260</text>
<text transform="translate(1200.2 1689.2) scale(0.95 1)" text-anchor="middle" font-size="30">2</text>
<text transform="translate(1286.2 1689.2) scale(0.95 1)" text-anchor="middle" font-size="30">4</text>
<text transform="translate(1372.1 1689.2) scale(0.95 1)" text-anchor="middle" font-size="30">6</text>
<text transform="translate(1458.1 1689.2) scale(0.95 1)" text-anchor="middle" font-size="30">8</text>
<text x="195.6" y="77.9" font-size="30">Yield, %</text>
<text x="477.8" y="77.3" font-size="30.75">Surface area, m<tspan font-size="21.5" dx="0.5" dy="-11.5">2</tspan><tspan dx="-1" dy="11.5"> g</tspan><tspan font-size="21.5" dy="-11.5">-1</tspan></text>
<text x="910.6" y="80.2" font-size="30">Yield, %</text>
<text x="1208" y="75.9" font-size="30.75">Surface area, m<tspan font-size="21.5" dx="0.5" dy="-11.5">2</tspan><tspan dx="-1" dy="11.5"> g</tspan><tspan font-size="21.5" dy="-11.5">-1</tspan></text>
<text x="109.4" y="630.5" font-size="30.75">Pore volume, cm<tspan font-size="21.5" dx="0.5" dy="-11.5">3</tspan><tspan dx="-1" dy="11.5"> g</tspan><tspan font-size="21.5" dy="-11.5">-1</tspan></text>
<text x="509.0" y="629.2" font-size="30.7">Pore size, nm</text>
<text x="838.2" y="630.5" font-size="30.75">Pore volume, cm<tspan font-size="21.5" dx="0.5" dy="-11.5">3</tspan><tspan dx="-1" dy="11.5"> g</tspan><tspan font-size="21.5" dy="-11.5">-1</tspan></text>
<text x="1260.0" y="627.6" font-size="30.7">Pore size, nm</text>
<text x="217.5" y="1174.1" font-size="30">O:C</text>
<text x="555.1" y="1175.4" font-size="30">Ash, %</text>
<text x="949" y="1174.1" font-size="30">O:C</text>
<text x="1311.9" y="1175.4" font-size="30">Ash, %</text>
<text x="277.6" y="35.6" font-size="47">Initially neutral</text>
<text x="1021" y="35.6" font-size="47">Initially acid</text>
<text x="678.2" y="1739.3" font-size="47">Time, h</text>
<text transform="translate(36.8 891.8) rotate(-90)" text-anchor="middle" font-size="47">Temperature, °C</text>
<path d="M764.6 14.9V1709" stroke="#000" stroke-width="5.4" stroke-dasharray="20.5 19.357"/>
</svg></body></html>
